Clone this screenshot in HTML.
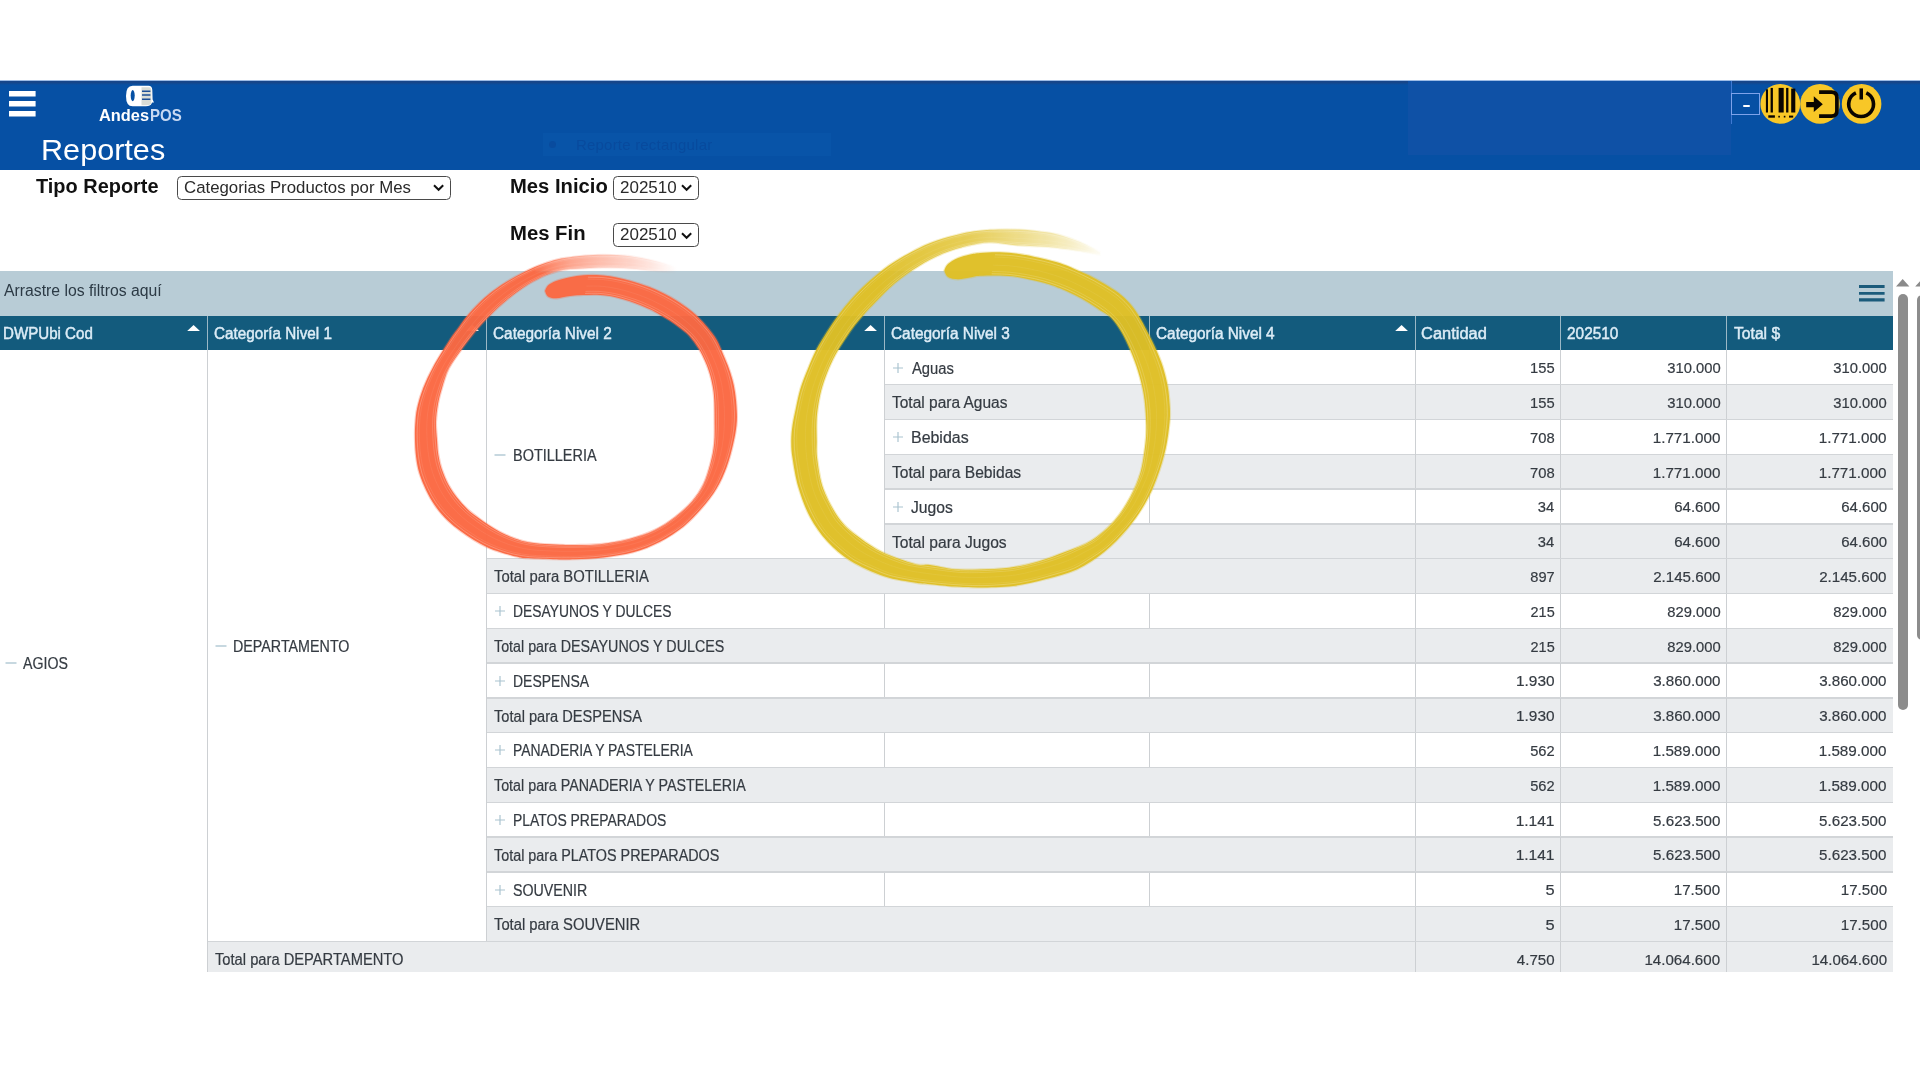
<!DOCTYPE html>
<html lang="es"><head><meta charset="utf-8"><title>AndesPOS - Reportes</title>
<style>
html,body{margin:0;padding:0;background:#ffffff}
body{width:1920px;height:1080px;position:relative;overflow:hidden;font-family:"Liberation Sans", sans-serif}
.t{position:absolute;white-space:nowrap;display:block}
.h{-webkit-text-stroke:0.45px #dcecf6}
.b{-webkit-text-stroke:0.2px #353b42}
</style></head><body>

<div style="position:absolute;left:0;top:80.6px;width:1920px;height:89.4px;background:#0650a4"></div>
<div style="position:absolute;left:0;top:79.8px;width:1920px;height:1px;background:#9dbce6"></div>
<div style="position:absolute;left:0;top:80.6px;width:1920px;height:4px;background:linear-gradient(#16468a,#16468a 40%,rgba(22,70,138,0))"></div>
<div style="position:absolute;left:1408px;top:81px;width:323px;height:74px;background:#0f51a6"></div>
<div style="position:absolute;left:542.5px;top:132.5px;width:288px;height:23px;background:#0a55a9;opacity:.75"></div>
<div style="position:absolute;left:549px;top:141px;width:7px;height:7px;border-radius:4px;background:#08479a;opacity:.7"></div>
<div style="position:absolute;left:576px;top:136px;font-size:15px;line-height:18px;color:#08479a;opacity:.75;white-space:nowrap;letter-spacing:0.2px">Reporte rectangular</div>
<div style="position:absolute;left:1730.7px;top:81px;width:1px;height:43px;background:#3f79d2"></div>
<div style="position:absolute;left:1731.2px;top:93.2px;width:28.9px;height:21.4px;box-sizing:border-box;border:1.4px solid #7ea3ea"></div>
<div style="position:absolute;left:1742.8px;top:105px;width:7.3px;height:2.1px;background:#ffffff;border-radius:1px"></div>
<svg style="position:absolute;left:8.5px;top:91px" width="27" height="26" viewBox="0 0 27 26"><path d="M0 0.1h26.6v5.4H0zM0 10.1h26.6v5.4H0zM0 20.1h26.6v5.4H0z" fill="#ffffff"/></svg>
<svg style="position:absolute;left:124px;top:84px" width="32" height="24" viewBox="0 0 32 24">
 <path d="M8.6 1.8H24.5Q28 1.8 28.3 6L28.6 15.5L30 18.6L28.2 18.4L27.6 19.6Q26.5 22.3 22 22.3H8.6Q2 22.3 2 12Q2 1.8 8.6 1.8Z" fill="#ffffff"/>
 <path d="M17.5 3.2H25Q27.2 3.4 27.3 6.5V19Q26.4 21.2 22.5 21.2H17.5Z" fill="#d9dcd6"/>
 <ellipse cx="8.7" cy="11.6" rx="2.0" ry="5.6" fill="#0650a4"/>
 <path d="M18 7.2h8.4M18 11.1h8.4M18 15.3h8.4" stroke="#1d4f97" stroke-width="1.5"/>
</svg>
<svg style="position:absolute;left:1760px;top:83px" width="124" height="42" viewBox="1760 83 124 42">
 <circle cx="1780.3" cy="103.9" r="19.9" fill="#f8c727"/>
 <circle cx="1820.0" cy="103.9" r="19.8" fill="#f8c727"/>
 <circle cx="1861.6" cy="103.9" r="19.8" fill="#f8c727"/>
 <g fill="#0a0500">
  <rect x="1765.9" y="89.3" width="2.1" height="23.2"/><rect x="1770.6" y="87.9" width="2.3" height="24.6"/>
  <rect x="1778.6" y="87.9" width="5.1" height="24.6"/><rect x="1786.1" y="87.9" width="2.3" height="24.6"/>
  <rect x="1791.2" y="88.6" width="4.1" height="23.9"/>
  <rect x="1768.3" y="115.3" width="6.6" height="2.4"/><rect x="1778.3" y="115.8" width="1.6" height="1.7"/>
  <rect x="1783.8" y="115.8" width="1.6" height="1.7"/><rect x="1789" y="115.6" width="4.2" height="2"/>
  <path d="M1806.2 101.9H1813.8V96.3L1822.8 104.2L1813.8 112V107.2H1806.2Z"/>
  <rect x="1859.5" y="88.4" width="3.5" height="11.1"/>
 </g>
 <path d="M1819.1 92.1H1831.5Q1836.9 92.1 1836.9 97.5V110.7Q1836.9 116.1 1831.5 116.1H1819.1" fill="none" stroke="#0a0500" stroke-width="3.7"/>
 <path d="M1855.9 92.9A12.4 12.4 0 1 0 1866.3 92.9" fill="none" stroke="#0a0500" stroke-width="3.6"/>
</svg>

<div style="position:absolute;left:177.3px;top:176.0px;width:273.8px;height:23.8px;box-sizing:border-box;border:1.9px solid #4a4a4a;border-radius:4.5px;background:#fff"></div><svg style="position:absolute;left:433.4px;top:184.3px" width="12" height="8" viewBox="0 0 12 8"><path d="M1 1.2L5.6 5.8L10.2 1.2" fill="none" stroke="#111" stroke-width="2"/></svg><div style="position:absolute;left:613.3px;top:176.0px;width:85.6px;height:23.8px;box-sizing:border-box;border:1.9px solid #4a4a4a;border-radius:4.5px;background:#fff"></div><svg style="position:absolute;left:681.4px;top:184.3px" width="12" height="8" viewBox="0 0 12 8"><path d="M1 1.2L5.6 5.8L10.2 1.2" fill="none" stroke="#111" stroke-width="2"/></svg><div style="position:absolute;left:613.3px;top:223.2px;width:85.6px;height:23.8px;box-sizing:border-box;border:1.9px solid #4a4a4a;border-radius:4.5px;background:#fff"></div><svg style="position:absolute;left:681.4px;top:231.5px" width="12" height="8" viewBox="0 0 12 8"><path d="M1 1.2L5.6 5.8L10.2 1.2" fill="none" stroke="#111" stroke-width="2"/></svg>

<div style="position:absolute;left:0;top:271.2px;width:1893.2px;height:44.6px;background:#b8ccd6"></div>
<div style="position:absolute;left:0;top:315.6px;width:1893.2px;height:34.2px;background:#135b7d"></div>
<div style="position:absolute;left:207px;top:315.6px;width:1px;height:34.2px;background:#9bb8c6"></div><div style="position:absolute;left:486px;top:315.6px;width:1px;height:34.2px;background:#9bb8c6"></div><div style="position:absolute;left:884px;top:315.6px;width:1px;height:34.2px;background:#9bb8c6"></div><div style="position:absolute;left:1149px;top:315.6px;width:1px;height:34.2px;background:#9bb8c6"></div><div style="position:absolute;left:1415px;top:315.6px;width:1px;height:34.2px;background:#9bb8c6"></div><div style="position:absolute;left:1560px;top:315.6px;width:1px;height:34.2px;background:#9bb8c6"></div><div style="position:absolute;left:1726px;top:315.6px;width:1px;height:34.2px;background:#9bb8c6"></div><svg style="position:absolute;left:187.00px;top:325.0px" width="13.2" height="6.2" viewBox="0 0 13.2 6.2"><path d="M0 6.2L6.6 0L13.2 6.2Z" fill="#ffffff"/></svg><svg style="position:absolute;left:465.90px;top:325.0px" width="13.2" height="6.2" viewBox="0 0 13.2 6.2"><path d="M0 6.2L6.6 0L13.2 6.2Z" fill="#ffffff"/></svg><svg style="position:absolute;left:864.00px;top:325.0px" width="13.2" height="6.2" viewBox="0 0 13.2 6.2"><path d="M0 6.2L6.6 0L13.2 6.2Z" fill="#ffffff"/></svg><svg style="position:absolute;left:1394.90px;top:325.0px" width="13.2" height="6.2" viewBox="0 0 13.2 6.2"><path d="M0 6.2L6.6 0L13.2 6.2Z" fill="#ffffff"/></svg>
<svg style="position:absolute;left:1858.8px;top:284.8px" width="26" height="17" viewBox="0 0 26 17"><path d="M0 0h25.6v3.1H0zM0 7h25.6v2.7H0zM0 13.3h25.6v3.2H0z" fill="#1b5b7b"/></svg>
<svg style="position:absolute;left:1896px;top:278.8px" width="24" height="8" viewBox="0 0 24 8"><path d="M0 7.6L6.7 0L13.4 7.6ZM19.2 7.6L25.9 0L32 7.6Z" fill="#8a8a8a"/></svg>
<div style="position:absolute;left:1897.8px;top:294.4px;width:10.3px;height:415.6px;border-radius:5.2px;background:#8c8c8c"></div>
<div style="position:absolute;left:1916.7px;top:294.6px;width:10.3px;height:345.2px;border-radius:5.2px;background:#8c8c8c"></div>

<svg style="position:absolute;left:892.20px;top:361.60px" width="12" height="12" viewBox="0 0 12 12"><path d="M1 6H11M6 1V11" stroke="#a9c3cf" stroke-width="1.15" fill="none"/></svg><div style="position:absolute;left:1149.00px;top:349.90px;width:1.00px;height:34.80px;background:#cdd0d3;"></div><div style="position:absolute;left:1415.00px;top:349.90px;width:1.00px;height:34.80px;background:#cdd0d3;"></div><div style="position:absolute;left:1560.00px;top:349.90px;width:1.00px;height:34.80px;background:#cdd0d3;"></div><div style="position:absolute;left:1726.00px;top:349.90px;width:1.00px;height:34.80px;background:#cdd0d3;"></div><div style="position:absolute;left:884.50px;top:384.70px;width:1008.70px;height:34.80px;background:#eaecee;"></div><div style="position:absolute;left:884.50px;top:384.00px;width:1008.70px;height:1.40px;background:#d2d5d8;"></div><div style="position:absolute;left:1415.00px;top:384.70px;width:1.00px;height:34.80px;background:#cdd0d3;"></div><div style="position:absolute;left:1560.00px;top:384.70px;width:1.00px;height:34.80px;background:#cdd0d3;"></div><div style="position:absolute;left:1726.00px;top:384.70px;width:1.00px;height:34.80px;background:#cdd0d3;"></div><svg style="position:absolute;left:892.20px;top:431.20px" width="12" height="12" viewBox="0 0 12 12"><path d="M1 6H11M6 1V11" stroke="#a9c3cf" stroke-width="1.15" fill="none"/></svg><div style="position:absolute;left:1149.00px;top:419.50px;width:1.00px;height:34.80px;background:#cdd0d3;"></div><div style="position:absolute;left:884.50px;top:418.80px;width:1008.70px;height:1.40px;background:#d2d5d8;"></div><div style="position:absolute;left:1415.00px;top:419.50px;width:1.00px;height:34.80px;background:#cdd0d3;"></div><div style="position:absolute;left:1560.00px;top:419.50px;width:1.00px;height:34.80px;background:#cdd0d3;"></div><div style="position:absolute;left:1726.00px;top:419.50px;width:1.00px;height:34.80px;background:#cdd0d3;"></div><div style="position:absolute;left:884.50px;top:454.30px;width:1008.70px;height:34.80px;background:#eaecee;"></div><div style="position:absolute;left:884.50px;top:453.60px;width:1008.70px;height:1.40px;background:#d2d5d8;"></div><div style="position:absolute;left:1415.00px;top:454.30px;width:1.00px;height:34.80px;background:#cdd0d3;"></div><div style="position:absolute;left:1560.00px;top:454.30px;width:1.00px;height:34.80px;background:#cdd0d3;"></div><div style="position:absolute;left:1726.00px;top:454.30px;width:1.00px;height:34.80px;background:#cdd0d3;"></div><svg style="position:absolute;left:892.20px;top:500.80px" width="12" height="12" viewBox="0 0 12 12"><path d="M1 6H11M6 1V11" stroke="#a9c3cf" stroke-width="1.15" fill="none"/></svg><div style="position:absolute;left:1149.00px;top:489.10px;width:1.00px;height:34.80px;background:#cdd0d3;"></div><div style="position:absolute;left:884.50px;top:488.40px;width:1008.70px;height:1.40px;background:#d2d5d8;"></div><div style="position:absolute;left:1415.00px;top:489.10px;width:1.00px;height:34.80px;background:#cdd0d3;"></div><div style="position:absolute;left:1560.00px;top:489.10px;width:1.00px;height:34.80px;background:#cdd0d3;"></div><div style="position:absolute;left:1726.00px;top:489.10px;width:1.00px;height:34.80px;background:#cdd0d3;"></div><div style="position:absolute;left:884.50px;top:523.90px;width:1008.70px;height:34.80px;background:#eaecee;"></div><div style="position:absolute;left:884.50px;top:523.20px;width:1008.70px;height:1.40px;background:#d2d5d8;"></div><div style="position:absolute;left:1415.00px;top:523.90px;width:1.00px;height:34.80px;background:#cdd0d3;"></div><div style="position:absolute;left:1560.00px;top:523.90px;width:1.00px;height:34.80px;background:#cdd0d3;"></div><div style="position:absolute;left:1726.00px;top:523.90px;width:1.00px;height:34.80px;background:#cdd0d3;"></div><div style="position:absolute;left:486.40px;top:558.70px;width:1406.80px;height:34.80px;background:#eaecee;"></div><div style="position:absolute;left:486.40px;top:558.00px;width:1406.80px;height:1.40px;background:#d2d5d8;"></div><div style="position:absolute;left:1415.00px;top:558.70px;width:1.00px;height:34.80px;background:#cdd0d3;"></div><div style="position:absolute;left:1560.00px;top:558.70px;width:1.00px;height:34.80px;background:#cdd0d3;"></div><div style="position:absolute;left:1726.00px;top:558.70px;width:1.00px;height:34.80px;background:#cdd0d3;"></div><svg style="position:absolute;left:494.10px;top:605.20px" width="12" height="12" viewBox="0 0 12 12"><path d="M1 6H11M6 1V11" stroke="#a9c3cf" stroke-width="1.15" fill="none"/></svg><div style="position:absolute;left:884.00px;top:593.50px;width:1.00px;height:34.80px;background:#cdd0d3;"></div><div style="position:absolute;left:1149.00px;top:593.50px;width:1.00px;height:34.80px;background:#cdd0d3;"></div><div style="position:absolute;left:486.40px;top:592.80px;width:1406.80px;height:1.40px;background:#d2d5d8;"></div><div style="position:absolute;left:1415.00px;top:593.50px;width:1.00px;height:34.80px;background:#cdd0d3;"></div><div style="position:absolute;left:1560.00px;top:593.50px;width:1.00px;height:34.80px;background:#cdd0d3;"></div><div style="position:absolute;left:1726.00px;top:593.50px;width:1.00px;height:34.80px;background:#cdd0d3;"></div><div style="position:absolute;left:486.40px;top:628.30px;width:1406.80px;height:34.80px;background:#eaecee;"></div><div style="position:absolute;left:486.40px;top:627.60px;width:1406.80px;height:1.40px;background:#d2d5d8;"></div><div style="position:absolute;left:1415.00px;top:628.30px;width:1.00px;height:34.80px;background:#cdd0d3;"></div><div style="position:absolute;left:1560.00px;top:628.30px;width:1.00px;height:34.80px;background:#cdd0d3;"></div><div style="position:absolute;left:1726.00px;top:628.30px;width:1.00px;height:34.80px;background:#cdd0d3;"></div><svg style="position:absolute;left:494.10px;top:674.80px" width="12" height="12" viewBox="0 0 12 12"><path d="M1 6H11M6 1V11" stroke="#a9c3cf" stroke-width="1.15" fill="none"/></svg><div style="position:absolute;left:884.00px;top:663.10px;width:1.00px;height:34.80px;background:#cdd0d3;"></div><div style="position:absolute;left:1149.00px;top:663.10px;width:1.00px;height:34.80px;background:#cdd0d3;"></div><div style="position:absolute;left:486.40px;top:662.40px;width:1406.80px;height:1.40px;background:#d2d5d8;"></div><div style="position:absolute;left:1415.00px;top:663.10px;width:1.00px;height:34.80px;background:#cdd0d3;"></div><div style="position:absolute;left:1560.00px;top:663.10px;width:1.00px;height:34.80px;background:#cdd0d3;"></div><div style="position:absolute;left:1726.00px;top:663.10px;width:1.00px;height:34.80px;background:#cdd0d3;"></div><div style="position:absolute;left:486.40px;top:697.90px;width:1406.80px;height:34.80px;background:#eaecee;"></div><div style="position:absolute;left:486.40px;top:697.20px;width:1406.80px;height:1.40px;background:#d2d5d8;"></div><div style="position:absolute;left:1415.00px;top:697.90px;width:1.00px;height:34.80px;background:#cdd0d3;"></div><div style="position:absolute;left:1560.00px;top:697.90px;width:1.00px;height:34.80px;background:#cdd0d3;"></div><div style="position:absolute;left:1726.00px;top:697.90px;width:1.00px;height:34.80px;background:#cdd0d3;"></div><svg style="position:absolute;left:494.10px;top:744.40px" width="12" height="12" viewBox="0 0 12 12"><path d="M1 6H11M6 1V11" stroke="#a9c3cf" stroke-width="1.15" fill="none"/></svg><div style="position:absolute;left:884.00px;top:732.70px;width:1.00px;height:34.80px;background:#cdd0d3;"></div><div style="position:absolute;left:1149.00px;top:732.70px;width:1.00px;height:34.80px;background:#cdd0d3;"></div><div style="position:absolute;left:486.40px;top:732.00px;width:1406.80px;height:1.40px;background:#d2d5d8;"></div><div style="position:absolute;left:1415.00px;top:732.70px;width:1.00px;height:34.80px;background:#cdd0d3;"></div><div style="position:absolute;left:1560.00px;top:732.70px;width:1.00px;height:34.80px;background:#cdd0d3;"></div><div style="position:absolute;left:1726.00px;top:732.70px;width:1.00px;height:34.80px;background:#cdd0d3;"></div><div style="position:absolute;left:486.40px;top:767.50px;width:1406.80px;height:34.80px;background:#eaecee;"></div><div style="position:absolute;left:486.40px;top:766.80px;width:1406.80px;height:1.40px;background:#d2d5d8;"></div><div style="position:absolute;left:1415.00px;top:767.50px;width:1.00px;height:34.80px;background:#cdd0d3;"></div><div style="position:absolute;left:1560.00px;top:767.50px;width:1.00px;height:34.80px;background:#cdd0d3;"></div><div style="position:absolute;left:1726.00px;top:767.50px;width:1.00px;height:34.80px;background:#cdd0d3;"></div><svg style="position:absolute;left:494.10px;top:814.00px" width="12" height="12" viewBox="0 0 12 12"><path d="M1 6H11M6 1V11" stroke="#a9c3cf" stroke-width="1.15" fill="none"/></svg><div style="position:absolute;left:884.00px;top:802.30px;width:1.00px;height:34.80px;background:#cdd0d3;"></div><div style="position:absolute;left:1149.00px;top:802.30px;width:1.00px;height:34.80px;background:#cdd0d3;"></div><div style="position:absolute;left:486.40px;top:801.60px;width:1406.80px;height:1.40px;background:#d2d5d8;"></div><div style="position:absolute;left:1415.00px;top:802.30px;width:1.00px;height:34.80px;background:#cdd0d3;"></div><div style="position:absolute;left:1560.00px;top:802.30px;width:1.00px;height:34.80px;background:#cdd0d3;"></div><div style="position:absolute;left:1726.00px;top:802.30px;width:1.00px;height:34.80px;background:#cdd0d3;"></div><div style="position:absolute;left:486.40px;top:837.10px;width:1406.80px;height:34.80px;background:#eaecee;"></div><div style="position:absolute;left:486.40px;top:836.40px;width:1406.80px;height:1.40px;background:#d2d5d8;"></div><div style="position:absolute;left:1415.00px;top:837.10px;width:1.00px;height:34.80px;background:#cdd0d3;"></div><div style="position:absolute;left:1560.00px;top:837.10px;width:1.00px;height:34.80px;background:#cdd0d3;"></div><div style="position:absolute;left:1726.00px;top:837.10px;width:1.00px;height:34.80px;background:#cdd0d3;"></div><svg style="position:absolute;left:494.10px;top:883.60px" width="12" height="12" viewBox="0 0 12 12"><path d="M1 6H11M6 1V11" stroke="#a9c3cf" stroke-width="1.15" fill="none"/></svg><div style="position:absolute;left:884.00px;top:871.90px;width:1.00px;height:34.80px;background:#cdd0d3;"></div><div style="position:absolute;left:1149.00px;top:871.90px;width:1.00px;height:34.80px;background:#cdd0d3;"></div><div style="position:absolute;left:486.40px;top:871.20px;width:1406.80px;height:1.40px;background:#d2d5d8;"></div><div style="position:absolute;left:1415.00px;top:871.90px;width:1.00px;height:34.80px;background:#cdd0d3;"></div><div style="position:absolute;left:1560.00px;top:871.90px;width:1.00px;height:34.80px;background:#cdd0d3;"></div><div style="position:absolute;left:1726.00px;top:871.90px;width:1.00px;height:34.80px;background:#cdd0d3;"></div><div style="position:absolute;left:486.40px;top:906.70px;width:1406.80px;height:34.80px;background:#eaecee;"></div><div style="position:absolute;left:486.40px;top:906.00px;width:1406.80px;height:1.40px;background:#d2d5d8;"></div><div style="position:absolute;left:1415.00px;top:906.70px;width:1.00px;height:34.80px;background:#cdd0d3;"></div><div style="position:absolute;left:1560.00px;top:906.70px;width:1.00px;height:34.80px;background:#cdd0d3;"></div><div style="position:absolute;left:1726.00px;top:906.70px;width:1.00px;height:34.80px;background:#cdd0d3;"></div><div style="position:absolute;left:207.50px;top:941.50px;width:1685.70px;height:30.70px;background:#eaecee;"></div><div style="position:absolute;left:207.50px;top:940.80px;width:1685.70px;height:1.40px;background:#d2d5d8;"></div><div style="position:absolute;left:1415.00px;top:941.50px;width:1.00px;height:30.70px;background:#cdd0d3;"></div><div style="position:absolute;left:1560.00px;top:941.50px;width:1.00px;height:30.70px;background:#cdd0d3;"></div><div style="position:absolute;left:1726.00px;top:941.50px;width:1.00px;height:30.70px;background:#cdd0d3;"></div><div style="position:absolute;left:207.00px;top:349.90px;width:1.00px;height:622.30px;background:#cdd0d3;"></div><div style="position:absolute;left:486.00px;top:349.90px;width:1.00px;height:591.60px;background:#cdd0d3;"></div><div style="position:absolute;left:884.00px;top:349.90px;width:1.00px;height:208.80px;background:#cdd0d3;"></div><svg style="position:absolute;left:4.50px;top:656.90px" width="12" height="12" viewBox="0 0 12 12"><path d="M0.5 6H11.5" stroke="#a9c3cf" stroke-width="1.3" fill="none"/></svg><svg style="position:absolute;left:215.30px;top:639.80px" width="12" height="12" viewBox="0 0 12 12"><path d="M0.5 6H11.5" stroke="#a9c3cf" stroke-width="1.3" fill="none"/></svg><svg style="position:absolute;left:493.80px;top:448.60px" width="12" height="12" viewBox="0 0 12 12"><path d="M0.5 6H11.5" stroke="#a9c3cf" stroke-width="1.3" fill="none"/></svg>
<span class="t" style="left:40.55px;transform-origin:0 0;top:130.95px;font-size:30px;line-height:37.5px;color:#ffffff;transform:scaleX(1.0203)">Reportes</span><span class="t" style="left:98.59px;transform-origin:0 0;top:105.38px;font-size:16.9px;line-height:21.12px;color:#ffffff;font-weight:bold;transform:scaleX(0.9706)">Andes</span><span class="t" style="left:149.77px;transform-origin:0 0;top:105.38px;font-size:16.9px;line-height:21.12px;color:#c8d9f2;font-weight:bold;transform:scaleX(0.8894)">POS</span><span class="t" style="left:35.71px;transform-origin:0 0;top:174.17px;font-size:20px;line-height:25.0px;color:#111111;font-weight:bold;transform:scaleX(0.9967)">Tipo Reporte</span><span class="t" style="left:510.20px;transform-origin:0 0;top:173.87px;font-size:20px;line-height:25.0px;color:#111111;font-weight:bold;transform:scaleX(1.0111)">Mes Inicio</span><span class="t" style="left:510.19px;transform-origin:0 0;top:221.17px;font-size:20px;line-height:25.0px;color:#111111;font-weight:bold;transform:scaleX(1.0147)">Mes Fin</span><span class="t" style="left:183.77px;transform-origin:0 0;top:178.10px;font-size:16.67px;line-height:20.84px;color:#2a2a2a;transform:scaleX(1.0086)">Categorias Productos por Mes</span><span class="t" style="left:619.98px;transform-origin:0 0;top:178.10px;font-size:16.67px;line-height:20.84px;color:#2a2a2a;transform:scaleX(1.0202)">202510</span><span class="t" style="left:619.98px;transform-origin:0 0;top:225.40px;font-size:16.67px;line-height:20.84px;color:#2a2a2a;transform:scaleX(1.0202)">202510</span><span class="t" style="left:3.91px;transform-origin:0 0;top:281.44px;font-size:15.6px;line-height:19.5px;color:#2c3a45;transform:scaleX(1.0103)">Arrastre los filtros aquí</span><span class="t h" style="left:3.46px;transform-origin:0 0;top:324.04px;font-size:15.6px;line-height:19.5px;color:#dcecf6;transform:scaleX(0.9686)">DWPUbi Cod</span><span class="t h" style="left:214.02px;transform-origin:0 0;top:324.04px;font-size:15.6px;line-height:19.5px;color:#dcecf6;transform:scaleX(0.9788)">Categoría Nivel 1</span><span class="t h" style="left:492.62px;transform-origin:0 0;top:324.04px;font-size:15.6px;line-height:19.5px;color:#dcecf6;transform:scaleX(0.9865)">Categoría Nivel 2</span><span class="t h" style="left:891.02px;transform-origin:0 0;top:324.04px;font-size:15.6px;line-height:19.5px;color:#dcecf6;transform:scaleX(0.9861)">Categoría Nivel 3</span><span class="t h" style="left:1156.02px;transform-origin:0 0;top:324.04px;font-size:15.6px;line-height:19.5px;color:#dcecf6;transform:scaleX(0.9847)">Categoría Nivel 4</span><span class="t h" style="left:1420.96px;transform-origin:0 0;top:324.04px;font-size:15.6px;line-height:19.5px;color:#dcecf6;transform:scaleX(1.0547)">Cantidad</span><span class="t h" style="left:1567.04px;transform-origin:0 0;top:324.04px;font-size:15.6px;line-height:19.5px;color:#dcecf6;transform:scaleX(0.9876)">202510</span><span class="t h" style="left:1733.81px;transform-origin:0 0;top:324.04px;font-size:15.6px;line-height:19.5px;color:#dcecf6;transform:scaleX(1.0044)">Total $</span><span class="t b" style="left:23.04px;transform-origin:0 0;top:654.34px;font-size:15.6px;line-height:19.5px;color:#353b42;transform:scaleX(0.9086)">AGIOS</span><span class="t b" style="left:233.41px;transform-origin:0 0;top:636.94px;font-size:15.6px;line-height:19.5px;color:#353b42;transform:scaleX(0.9165)">DEPARTAMENTO</span><span class="t b" style="left:512.80px;transform-origin:0 0;top:445.54px;font-size:15.6px;line-height:19.5px;color:#353b42;transform:scaleX(0.9279)">BOTILLERIA</span><span class="t b" style="left:911.53px;transform-origin:0 0;top:358.54px;font-size:15.6px;line-height:19.5px;color:#353b42;transform:scaleX(0.946)">Aguas</span><span class="t b" style="right:365.75px;transform-origin:100% 0;top:358.24px;font-size:15.4px;line-height:19.25px;color:#353b42;transform:scaleX(0.9578)">155</span><span class="t b" style="right:199.62px;transform-origin:100% 0;top:358.24px;font-size:15.4px;line-height:19.25px;color:#353b42;transform:scaleX(0.9595)">310.000</span><span class="t b" style="right:32.92px;transform-origin:100% 0;top:358.24px;font-size:15.4px;line-height:19.25px;color:#353b42;transform:scaleX(0.9595)">310.000</span><span class="t b" style="left:892.01px;transform-origin:0 0;top:393.34px;font-size:15.6px;line-height:19.5px;color:#353b42;transform:scaleX(0.9935)">Total para Aguas</span><span class="t b" style="right:365.75px;transform-origin:100% 0;top:393.04px;font-size:15.4px;line-height:19.25px;color:#353b42;transform:scaleX(0.9578)">155</span><span class="t b" style="right:199.62px;transform-origin:100% 0;top:393.04px;font-size:15.4px;line-height:19.25px;color:#353b42;transform:scaleX(0.9595)">310.000</span><span class="t b" style="right:32.92px;transform-origin:100% 0;top:393.04px;font-size:15.4px;line-height:19.25px;color:#353b42;transform:scaleX(0.9595)">310.000</span><span class="t b" style="left:910.81px;transform-origin:0 0;top:428.14px;font-size:15.6px;line-height:19.5px;color:#353b42;transform:scaleX(1.0225)">Bebidas</span><span class="t b" style="right:365.48px;transform-origin:100% 0;top:427.84px;font-size:15.4px;line-height:19.25px;color:#353b42;transform:scaleX(0.9611)">708</span><span class="t b" style="right:199.76px;transform-origin:100% 0;top:427.84px;font-size:15.4px;line-height:19.25px;color:#353b42;transform:scaleX(0.9902)">1.771.000</span><span class="t b" style="right:33.06px;transform-origin:100% 0;top:427.84px;font-size:15.4px;line-height:19.25px;color:#353b42;transform:scaleX(0.9902)">1.771.000</span><span class="t b" style="left:892.01px;transform-origin:0 0;top:462.94px;font-size:15.6px;line-height:19.5px;color:#353b42;transform:scaleX(0.9996)">Total para Bebidas</span><span class="t b" style="right:365.48px;transform-origin:100% 0;top:462.64px;font-size:15.4px;line-height:19.25px;color:#353b42;transform:scaleX(0.9611)">708</span><span class="t b" style="right:199.76px;transform-origin:100% 0;top:462.64px;font-size:15.4px;line-height:19.25px;color:#353b42;transform:scaleX(0.9902)">1.771.000</span><span class="t b" style="right:33.06px;transform-origin:100% 0;top:462.64px;font-size:15.4px;line-height:19.25px;color:#353b42;transform:scaleX(0.9902)">1.771.000</span><span class="t b" style="left:911.35px;transform-origin:0 0;top:497.74px;font-size:15.6px;line-height:19.5px;color:#353b42;transform:scaleX(1.0073)">Jugos</span><span class="t b" style="right:365.86px;transform-origin:100% 0;top:497.44px;font-size:15.4px;line-height:19.25px;color:#353b42;transform:scaleX(0.9586)">34</span><span class="t b" style="right:199.54px;transform-origin:100% 0;top:497.44px;font-size:15.4px;line-height:19.25px;color:#353b42;transform:scaleX(0.9741)">64.600</span><span class="t b" style="right:32.84px;transform-origin:100% 0;top:497.44px;font-size:15.4px;line-height:19.25px;color:#353b42;transform:scaleX(0.9741)">64.600</span><span class="t b" style="left:892.01px;transform-origin:0 0;top:532.54px;font-size:15.6px;line-height:19.5px;color:#353b42;transform:scaleX(1.0021)">Total para Jugos</span><span class="t b" style="right:365.86px;transform-origin:100% 0;top:532.24px;font-size:15.4px;line-height:19.25px;color:#353b42;transform:scaleX(0.9586)">34</span><span class="t b" style="right:199.54px;transform-origin:100% 0;top:532.24px;font-size:15.4px;line-height:19.25px;color:#353b42;transform:scaleX(0.9741)">64.600</span><span class="t b" style="right:32.84px;transform-origin:100% 0;top:532.24px;font-size:15.4px;line-height:19.25px;color:#353b42;transform:scaleX(0.9741)">64.600</span><span class="t b" style="left:493.93px;transform-origin:0 0;top:567.34px;font-size:15.6px;line-height:19.5px;color:#353b42;transform:scaleX(0.9511)">Total para BOTILLERIA</span><span class="t b" style="right:365.47px;transform-origin:100% 0;top:567.04px;font-size:15.4px;line-height:19.25px;color:#353b42;transform:scaleX(0.9488)">897</span><span class="t b" style="right:199.76px;transform-origin:100% 0;top:567.04px;font-size:15.4px;line-height:19.25px;color:#353b42;transform:scaleX(0.9831)">2.145.600</span><span class="t b" style="right:33.06px;transform-origin:100% 0;top:567.04px;font-size:15.4px;line-height:19.25px;color:#353b42;transform:scaleX(0.9831)">2.145.600</span><span class="t b" style="left:512.84px;transform-origin:0 0;top:602.14px;font-size:15.6px;line-height:19.5px;color:#353b42;transform:scaleX(0.8883)">DESAYUNOS Y DULCES</span><span class="t b" style="right:365.76px;transform-origin:100% 0;top:601.84px;font-size:15.4px;line-height:19.25px;color:#353b42;transform:scaleX(0.9388)">215</span><span class="t b" style="right:199.62px;transform-origin:100% 0;top:601.84px;font-size:15.4px;line-height:19.25px;color:#353b42;transform:scaleX(0.9586)">829.000</span><span class="t b" style="right:32.92px;transform-origin:100% 0;top:601.84px;font-size:15.4px;line-height:19.25px;color:#353b42;transform:scaleX(0.9586)">829.000</span><span class="t b" style="left:493.94px;transform-origin:0 0;top:636.94px;font-size:15.6px;line-height:19.5px;color:#353b42;transform:scaleX(0.9164)">Total para DESAYUNOS Y DULCES</span><span class="t b" style="right:365.76px;transform-origin:100% 0;top:636.64px;font-size:15.4px;line-height:19.25px;color:#353b42;transform:scaleX(0.9388)">215</span><span class="t b" style="right:199.62px;transform-origin:100% 0;top:636.64px;font-size:15.4px;line-height:19.25px;color:#353b42;transform:scaleX(0.9586)">829.000</span><span class="t b" style="right:32.92px;transform-origin:100% 0;top:636.64px;font-size:15.4px;line-height:19.25px;color:#353b42;transform:scaleX(0.9586)">829.000</span><span class="t b" style="left:512.83px;transform-origin:0 0;top:671.74px;font-size:15.6px;line-height:19.5px;color:#353b42;transform:scaleX(0.8955)">DESPENSA</span><span class="t b" style="right:365.93px;transform-origin:100% 0;top:671.44px;font-size:15.4px;line-height:19.25px;color:#353b42;transform:scaleX(1.001)">1.930</span><span class="t b" style="right:199.76px;transform-origin:100% 0;top:671.44px;font-size:15.4px;line-height:19.25px;color:#353b42;transform:scaleX(0.9832)">3.860.000</span><span class="t b" style="right:33.06px;transform-origin:100% 0;top:671.44px;font-size:15.4px;line-height:19.25px;color:#353b42;transform:scaleX(0.9832)">3.860.000</span><span class="t b" style="left:493.94px;transform-origin:0 0;top:706.54px;font-size:15.6px;line-height:19.5px;color:#353b42;transform:scaleX(0.9375)">Total para DESPENSA</span><span class="t b" style="right:365.93px;transform-origin:100% 0;top:706.24px;font-size:15.4px;line-height:19.25px;color:#353b42;transform:scaleX(1.001)">1.930</span><span class="t b" style="right:199.76px;transform-origin:100% 0;top:706.24px;font-size:15.4px;line-height:19.25px;color:#353b42;transform:scaleX(0.9832)">3.860.000</span><span class="t b" style="right:33.06px;transform-origin:100% 0;top:706.24px;font-size:15.4px;line-height:19.25px;color:#353b42;transform:scaleX(0.9832)">3.860.000</span><span class="t b" style="left:512.84px;transform-origin:0 0;top:741.34px;font-size:15.6px;line-height:19.5px;color:#353b42;transform:scaleX(0.8921)">PANADERIA Y PASTELERIA</span><span class="t b" style="right:365.47px;transform-origin:100% 0;top:741.04px;font-size:15.4px;line-height:19.25px;color:#353b42;transform:scaleX(0.9534)">562</span><span class="t b" style="right:199.76px;transform-origin:100% 0;top:741.04px;font-size:15.4px;line-height:19.25px;color:#353b42;transform:scaleX(0.9902)">1.589.000</span><span class="t b" style="right:33.06px;transform-origin:100% 0;top:741.04px;font-size:15.4px;line-height:19.25px;color:#353b42;transform:scaleX(0.9902)">1.589.000</span><span class="t b" style="left:493.94px;transform-origin:0 0;top:776.14px;font-size:15.6px;line-height:19.5px;color:#353b42;transform:scaleX(0.917)">Total para PANADERIA Y PASTELERIA</span><span class="t b" style="right:365.47px;transform-origin:100% 0;top:775.84px;font-size:15.4px;line-height:19.25px;color:#353b42;transform:scaleX(0.9534)">562</span><span class="t b" style="right:199.76px;transform-origin:100% 0;top:775.84px;font-size:15.4px;line-height:19.25px;color:#353b42;transform:scaleX(0.9902)">1.589.000</span><span class="t b" style="right:33.06px;transform-origin:100% 0;top:775.84px;font-size:15.4px;line-height:19.25px;color:#353b42;transform:scaleX(0.9902)">1.589.000</span><span class="t b" style="left:512.83px;transform-origin:0 0;top:810.94px;font-size:15.6px;line-height:19.5px;color:#353b42;transform:scaleX(0.8932)">PLATOS PREPARADOS</span><span class="t b" style="right:365.61px;transform-origin:100% 0;top:810.64px;font-size:15.4px;line-height:19.25px;color:#353b42;transform:scaleX(1.0094)">1.141</span><span class="t b" style="right:199.76px;transform-origin:100% 0;top:810.64px;font-size:15.4px;line-height:19.25px;color:#353b42;transform:scaleX(0.9842)">5.623.500</span><span class="t b" style="right:33.06px;transform-origin:100% 0;top:810.64px;font-size:15.4px;line-height:19.25px;color:#353b42;transform:scaleX(0.9842)">5.623.500</span><span class="t b" style="left:493.94px;transform-origin:0 0;top:845.74px;font-size:15.6px;line-height:19.5px;color:#353b42;transform:scaleX(0.9222)">Total para PLATOS PREPARADOS</span><span class="t b" style="right:365.61px;transform-origin:100% 0;top:845.44px;font-size:15.4px;line-height:19.25px;color:#353b42;transform:scaleX(1.0094)">1.141</span><span class="t b" style="right:199.76px;transform-origin:100% 0;top:845.44px;font-size:15.4px;line-height:19.25px;color:#353b42;transform:scaleX(0.9842)">5.623.500</span><span class="t b" style="right:33.06px;transform-origin:100% 0;top:845.44px;font-size:15.4px;line-height:19.25px;color:#353b42;transform:scaleX(0.9842)">5.623.500</span><span class="t b" style="left:512.94px;transform-origin:0 0;top:880.54px;font-size:15.6px;line-height:19.5px;color:#353b42;transform:scaleX(0.9121)">SOUVENIR</span><span class="t b" style="right:365.82px;transform-origin:100% 0;top:880.24px;font-size:15.4px;line-height:19.25px;color:#353b42;transform:scaleX(1.0675)">5</span><span class="t b" style="right:199.53px;transform-origin:100% 0;top:880.24px;font-size:15.4px;line-height:19.25px;color:#353b42;transform:scaleX(0.9844)">17.500</span><span class="t b" style="right:32.83px;transform-origin:100% 0;top:880.24px;font-size:15.4px;line-height:19.25px;color:#353b42;transform:scaleX(0.9844)">17.500</span><span class="t b" style="left:493.93px;transform-origin:0 0;top:915.34px;font-size:15.6px;line-height:19.5px;color:#353b42;transform:scaleX(0.9479)">Total para SOUVENIR</span><span class="t b" style="right:365.82px;transform-origin:100% 0;top:915.04px;font-size:15.4px;line-height:19.25px;color:#353b42;transform:scaleX(1.0675)">5</span><span class="t b" style="right:199.53px;transform-origin:100% 0;top:915.04px;font-size:15.4px;line-height:19.25px;color:#353b42;transform:scaleX(0.9844)">17.500</span><span class="t b" style="right:32.83px;transform-origin:100% 0;top:915.04px;font-size:15.4px;line-height:19.25px;color:#353b42;transform:scaleX(0.9844)">17.500</span><span class="t b" style="left:215.03px;transform-origin:0 0;top:950.14px;font-size:15.6px;line-height:19.5px;color:#353b42;transform:scaleX(0.9429)">Total para DEPARTAMENTO</span><span class="t b" style="right:365.93px;transform-origin:100% 0;top:949.84px;font-size:15.4px;line-height:19.25px;color:#353b42;transform:scaleX(0.9787)">4.750</span><span class="t b" style="right:199.58px;transform-origin:100% 0;top:949.84px;font-size:15.4px;line-height:19.25px;color:#353b42;transform:scaleX(0.9815)">14.064.600</span><span class="t b" style="right:32.88px;transform-origin:100% 0;top:949.84px;font-size:15.4px;line-height:19.25px;color:#353b42;transform:scaleX(0.9815)">14.064.600</span>
<svg style="position:absolute;left:0;top:0" width="1920" height="1080" viewBox="0 0 1920 1080">
<linearGradient id="go" gradientUnits="userSpaceOnUse" x1="535" y1="0" x2="677" y2="0"><stop offset="0.000" stop-color="#f7f7f7"/><stop offset="0.106" stop-color="#cccccc"/><stop offset="0.246" stop-color="#9e9e9e"/><stop offset="0.387" stop-color="#808080"/><stop offset="0.528" stop-color="#666666"/><stop offset="0.669" stop-color="#4c4c4c"/><stop offset="0.810" stop-color="#2e2e2e"/><stop offset="0.915" stop-color="#141414"/><stop offset="1.000" stop-color="#000000"/></linearGradient>
<mask id="mo" maskUnits="userSpaceOnUse" maskContentUnits="userSpaceOnUse" x="380" y="220" width="400" height="380"><rect x="380" y="220" width="400" height="380" fill="#fff"/><path d="M535 240H700V292L660 284L640 278L600 272.6H535Z" fill="url(#go)"/></mask>
<g mask="url(#mo)"><path d="M545.0 291.0C545.5 290.1 546.2 287.2 548.0 285.5C549.8 283.8 552.3 282.4 556.0 281.0C559.7 279.6 565.5 278.2 570.0 277.3C574.5 276.4 578.8 275.7 583.3 275.3C587.8 274.9 592.2 274.8 596.7 275.0C601.2 275.2 605.6 275.6 610.0 276.3C614.4 277.0 618.8 277.9 623.3 279.0C627.8 280.1 632.2 281.3 636.7 282.7C641.2 284.1 645.6 285.5 650.0 287.3C654.4 289.1 658.8 291.1 663.3 293.3C667.8 295.5 672.2 297.9 676.7 300.7C681.2 303.5 686.5 307.3 690.0 310.0C693.5 312.7 695.0 314.0 698.0 317.0C701.0 320.0 704.7 324.0 707.8 327.8C710.9 331.6 714.3 335.9 716.7 340.0C719.1 344.1 720.4 347.9 722.2 352.2C724.1 356.5 726.1 361.2 727.8 365.6C729.5 370.1 731.0 374.5 732.2 378.9C733.4 383.3 734.2 387.0 735.0 392.2C735.8 397.4 736.5 404.5 736.7 410.0C737.0 415.5 737.1 419.4 736.5 425.0C735.9 430.6 734.9 436.4 733.3 443.3C731.7 450.2 729.5 459.2 726.7 466.7C723.9 474.2 720.9 481.4 716.7 488.3C712.5 495.2 707.3 501.9 701.7 508.3C696.1 514.7 690.2 521.1 683.3 526.7C676.3 532.3 668.3 537.4 660.0 541.7C651.7 546.0 642.8 549.7 633.3 552.3C623.8 554.9 613.0 556.2 603.3 557.4C593.6 558.5 583.3 558.9 575.0 559.2C566.7 559.5 561.6 559.4 553.3 559.2C545.0 559.0 531.2 558.6 525.0 558.1C518.8 557.6 520.2 557.5 516.1 556.5C512.0 555.5 505.4 553.8 500.6 552.2C495.8 550.7 491.6 549.2 487.2 547.2C482.8 545.2 478.3 542.7 473.9 540.0C469.5 537.3 465.1 534.4 460.6 531.1C456.2 527.8 451.5 524.2 447.2 520.0C442.9 515.8 438.5 510.6 435.0 505.6C431.5 500.6 428.7 495.4 426.1 490.0C423.5 484.6 421.1 478.9 419.4 473.3C417.7 467.8 416.8 462.2 416.1 456.7C415.4 451.1 415.1 445.3 415.0 440.0C414.9 434.7 414.8 430.3 415.2 425.0C415.6 419.7 415.8 414.2 417.2 408.0C418.6 401.8 420.6 394.9 423.3 388.0C426.0 381.1 429.0 374.5 433.3 366.7C437.6 358.9 444.8 347.5 449.0 341.0C453.2 334.5 455.4 332.0 458.5 327.8C461.6 323.6 464.1 319.7 467.5 315.6C470.9 311.5 475.1 307.0 478.9 303.3C482.6 299.6 485.9 296.6 490.0 293.3C494.1 290.1 498.9 286.7 503.3 283.8C507.8 280.9 512.2 278.4 516.7 276.0C521.2 273.6 525.6 271.2 530.0 269.2C534.4 267.2 538.8 265.4 543.3 263.8C547.8 262.2 552.9 260.6 556.7 259.6C560.5 258.6 561.3 258.5 566.0 257.8C570.7 257.1 578.5 256.1 585.0 255.6C591.5 255.1 597.5 254.7 605.0 254.8C612.5 254.9 621.7 255.2 630.0 256.2C638.3 257.2 647.0 259.0 655.0 261.0C663.0 263.0 674.2 266.8 678.0 268.0L678.0 273.0C674.2 272.7 663.0 271.8 655.0 271.0C647.0 270.2 638.3 269.1 630.0 268.5C621.7 267.9 612.5 267.6 605.0 267.5C597.5 267.4 591.5 267.8 585.0 268.2C578.5 268.6 571.8 268.7 566.0 269.6C560.2 270.5 554.5 272.1 550.0 273.6C545.5 275.1 542.6 276.7 538.9 278.5C535.2 280.3 531.5 282.2 527.8 284.5C524.1 286.8 520.4 289.4 516.7 292.2C513.0 294.9 509.3 297.9 505.6 301.0C501.9 304.1 498.9 306.5 494.4 311.0C489.9 315.5 483.7 321.7 478.5 327.8C473.3 333.9 467.9 340.8 463.0 347.5C458.1 354.2 452.5 361.6 449.0 368.3C445.5 375.1 443.8 382.1 442.0 388.0C440.2 393.9 439.0 398.4 438.0 404.0C437.0 409.6 436.2 415.7 436.0 421.7C435.8 427.7 436.6 434.6 437.0 440.0C437.4 445.4 437.5 449.6 438.3 454.4C439.1 459.2 440.0 463.9 441.7 468.9C443.4 473.9 445.7 479.6 448.3 484.4C450.9 489.2 454.1 493.7 457.2 497.8C460.3 501.9 463.7 505.6 467.2 508.9C470.7 512.2 474.6 515.0 478.3 517.8C482.0 520.6 485.7 523.2 489.4 525.6C493.1 528.0 496.9 530.3 500.6 532.2C504.3 534.1 507.6 535.7 511.7 537.2C515.8 538.8 520.3 540.4 525.0 541.5C529.7 542.6 534.2 543.2 540.0 543.8C545.8 544.3 554.2 544.6 560.0 544.8C565.8 545.0 568.3 545.1 575.0 545.0C581.7 544.9 591.0 545.2 600.0 544.2C609.0 543.2 619.9 541.4 629.0 539.0C638.1 536.6 646.8 533.7 654.5 530.0C662.2 526.3 668.8 521.8 675.0 517.0C681.2 512.2 687.2 507.0 692.0 501.5C696.8 496.0 700.4 490.4 703.5 484.0C706.6 477.6 708.7 470.1 710.5 463.3C712.3 456.5 713.5 450.5 714.2 443.3C714.9 436.1 714.6 427.4 714.6 420.0C714.6 412.6 714.5 404.4 714.2 398.9C713.9 393.3 713.5 390.8 712.8 386.7C712.1 382.6 711.2 378.5 710.0 374.4C708.8 370.3 707.5 366.4 705.6 362.2C703.8 357.9 701.7 353.3 698.9 348.9C696.1 344.4 692.1 339.0 689.0 335.5C685.9 332.0 683.2 330.5 680.0 328.0C676.8 325.5 673.3 322.9 670.0 320.7C666.7 318.5 663.3 316.6 660.0 314.7C656.7 312.8 653.9 311.1 650.0 309.3C646.1 307.5 641.2 305.4 636.7 303.7C632.2 302.0 627.8 300.6 623.3 299.3C618.8 298.0 614.4 296.8 610.0 296.0C605.6 295.2 601.2 294.9 596.7 294.7C592.2 294.5 587.8 294.8 583.3 295.0C578.8 295.2 574.5 295.3 570.0 295.9C565.5 296.4 559.7 298.2 556.0 298.3C552.3 298.4 549.8 297.7 548.0 296.5C546.2 295.3 545.5 291.9 545.0 291.0Z" fill="none" stroke="#fb6842" stroke-opacity="0.3" stroke-width="2.2" stroke-linejoin="round"/><path d="M545.0 291.0C545.5 290.1 546.2 287.2 548.0 285.5C549.8 283.8 552.3 282.4 556.0 281.0C559.7 279.6 565.5 278.2 570.0 277.3C574.5 276.4 578.8 275.7 583.3 275.3C587.8 274.9 592.2 274.8 596.7 275.0C601.2 275.2 605.6 275.6 610.0 276.3C614.4 277.0 618.8 277.9 623.3 279.0C627.8 280.1 632.2 281.3 636.7 282.7C641.2 284.1 645.6 285.5 650.0 287.3C654.4 289.1 658.8 291.1 663.3 293.3C667.8 295.5 672.2 297.9 676.7 300.7C681.2 303.5 686.5 307.3 690.0 310.0C693.5 312.7 695.0 314.0 698.0 317.0C701.0 320.0 704.7 324.0 707.8 327.8C710.9 331.6 714.3 335.9 716.7 340.0C719.1 344.1 720.4 347.9 722.2 352.2C724.1 356.5 726.1 361.2 727.8 365.6C729.5 370.1 731.0 374.5 732.2 378.9C733.4 383.3 734.2 387.0 735.0 392.2C735.8 397.4 736.5 404.5 736.7 410.0C737.0 415.5 737.1 419.4 736.5 425.0C735.9 430.6 734.9 436.4 733.3 443.3C731.7 450.2 729.5 459.2 726.7 466.7C723.9 474.2 720.9 481.4 716.7 488.3C712.5 495.2 707.3 501.9 701.7 508.3C696.1 514.7 690.2 521.1 683.3 526.7C676.3 532.3 668.3 537.4 660.0 541.7C651.7 546.0 642.8 549.7 633.3 552.3C623.8 554.9 613.0 556.2 603.3 557.4C593.6 558.5 583.3 558.9 575.0 559.2C566.7 559.5 561.6 559.4 553.3 559.2C545.0 559.0 531.2 558.6 525.0 558.1C518.8 557.6 520.2 557.5 516.1 556.5C512.0 555.5 505.4 553.8 500.6 552.2C495.8 550.7 491.6 549.2 487.2 547.2C482.8 545.2 478.3 542.7 473.9 540.0C469.5 537.3 465.1 534.4 460.6 531.1C456.2 527.8 451.5 524.2 447.2 520.0C442.9 515.8 438.5 510.6 435.0 505.6C431.5 500.6 428.7 495.4 426.1 490.0C423.5 484.6 421.1 478.9 419.4 473.3C417.7 467.8 416.8 462.2 416.1 456.7C415.4 451.1 415.1 445.3 415.0 440.0C414.9 434.7 414.8 430.3 415.2 425.0C415.6 419.7 415.8 414.2 417.2 408.0C418.6 401.8 420.6 394.9 423.3 388.0C426.0 381.1 429.0 374.5 433.3 366.7C437.6 358.9 444.8 347.5 449.0 341.0C453.2 334.5 455.4 332.0 458.5 327.8C461.6 323.6 464.1 319.7 467.5 315.6C470.9 311.5 475.1 307.0 478.9 303.3C482.6 299.6 485.9 296.6 490.0 293.3C494.1 290.1 498.9 286.7 503.3 283.8C507.8 280.9 512.2 278.4 516.7 276.0C521.2 273.6 525.6 271.2 530.0 269.2C534.4 267.2 538.8 265.4 543.3 263.8C547.8 262.2 552.9 260.6 556.7 259.6C560.5 258.6 561.3 258.5 566.0 257.8C570.7 257.1 578.5 256.1 585.0 255.6C591.5 255.1 597.5 254.7 605.0 254.8C612.5 254.9 621.7 255.2 630.0 256.2C638.3 257.2 647.0 259.0 655.0 261.0C663.0 263.0 674.2 266.8 678.0 268.0L678.0 273.0C674.2 272.7 663.0 271.8 655.0 271.0C647.0 270.2 638.3 269.1 630.0 268.5C621.7 267.9 612.5 267.6 605.0 267.5C597.5 267.4 591.5 267.8 585.0 268.2C578.5 268.6 571.8 268.7 566.0 269.6C560.2 270.5 554.5 272.1 550.0 273.6C545.5 275.1 542.6 276.7 538.9 278.5C535.2 280.3 531.5 282.2 527.8 284.5C524.1 286.8 520.4 289.4 516.7 292.2C513.0 294.9 509.3 297.9 505.6 301.0C501.9 304.1 498.9 306.5 494.4 311.0C489.9 315.5 483.7 321.7 478.5 327.8C473.3 333.9 467.9 340.8 463.0 347.5C458.1 354.2 452.5 361.6 449.0 368.3C445.5 375.1 443.8 382.1 442.0 388.0C440.2 393.9 439.0 398.4 438.0 404.0C437.0 409.6 436.2 415.7 436.0 421.7C435.8 427.7 436.6 434.6 437.0 440.0C437.4 445.4 437.5 449.6 438.3 454.4C439.1 459.2 440.0 463.9 441.7 468.9C443.4 473.9 445.7 479.6 448.3 484.4C450.9 489.2 454.1 493.7 457.2 497.8C460.3 501.9 463.7 505.6 467.2 508.9C470.7 512.2 474.6 515.0 478.3 517.8C482.0 520.6 485.7 523.2 489.4 525.6C493.1 528.0 496.9 530.3 500.6 532.2C504.3 534.1 507.6 535.7 511.7 537.2C515.8 538.8 520.3 540.4 525.0 541.5C529.7 542.6 534.2 543.2 540.0 543.8C545.8 544.3 554.2 544.6 560.0 544.8C565.8 545.0 568.3 545.1 575.0 545.0C581.7 544.9 591.0 545.2 600.0 544.2C609.0 543.2 619.9 541.4 629.0 539.0C638.1 536.6 646.8 533.7 654.5 530.0C662.2 526.3 668.8 521.8 675.0 517.0C681.2 512.2 687.2 507.0 692.0 501.5C696.8 496.0 700.4 490.4 703.5 484.0C706.6 477.6 708.7 470.1 710.5 463.3C712.3 456.5 713.5 450.5 714.2 443.3C714.9 436.1 714.6 427.4 714.6 420.0C714.6 412.6 714.5 404.4 714.2 398.9C713.9 393.3 713.5 390.8 712.8 386.7C712.1 382.6 711.2 378.5 710.0 374.4C708.8 370.3 707.5 366.4 705.6 362.2C703.8 357.9 701.7 353.3 698.9 348.9C696.1 344.4 692.1 339.0 689.0 335.5C685.9 332.0 683.2 330.5 680.0 328.0C676.8 325.5 673.3 322.9 670.0 320.7C666.7 318.5 663.3 316.6 660.0 314.7C656.7 312.8 653.9 311.1 650.0 309.3C646.1 307.5 641.2 305.4 636.7 303.7C632.2 302.0 627.8 300.6 623.3 299.3C618.8 298.0 614.4 296.8 610.0 296.0C605.6 295.2 601.2 294.9 596.7 294.7C592.2 294.5 587.8 294.8 583.3 295.0C578.8 295.2 574.5 295.3 570.0 295.9C565.5 296.4 559.7 298.2 556.0 298.3C552.3 298.4 549.8 297.7 548.0 296.5C546.2 295.3 545.5 291.9 545.0 291.0Z" fill="#fb6842" opacity="0.97"/><path d="M588.0 277.2C590.7 277.3 598.7 277.2 604.0 277.7C609.2 278.2 614.5 279.1 619.7 280.3C624.9 281.4 630.1 282.8 635.2 284.3C640.2 285.9 645.3 287.6 650.2 289.6C655.1 291.6 660.0 293.9 664.7 296.4C669.4 298.9 674.0 301.5 678.5 304.4C682.9 307.4 687.3 310.4 691.4 313.9C695.4 317.3 699.2 321.1 702.7 325.1C706.3 329.0 709.7 333.2 712.6 337.7C715.4 342.1 717.7 347.0 719.9 351.8C722.1 356.6 724.2 361.5 726.0 366.5C727.8 371.5 729.5 376.6 730.7 381.8C731.9 387.0 732.7 392.3 733.3 397.5C734.0 402.8 734.4 408.2 734.5 413.5C734.5 418.8 734.2 424.1 733.7 429.4C733.1 434.7 732.1 439.9 730.9 445.1C729.8 450.3 728.3 455.5 726.7 460.5C725.1 465.6 723.1 470.6 721.0 475.4C718.9 480.3 716.8 485.2 714.0 489.7C711.3 494.3 707.9 498.5 704.5 502.6C701.1 506.7 697.5 510.6 693.8 514.4C690.2 518.3 686.6 522.3 682.4 525.6C678.3 528.9 673.6 531.6 669.1 534.3C664.5 537.1 660.0 539.9 655.2 542.2C650.4 544.5 645.4 546.3 640.3 548.0C635.3 549.7 630.2 551.1 625.0 552.3C619.9 553.5 614.6 554.3 609.3 555.0C604.0 555.7 598.7 556.2 593.4 556.7C588.1 557.1 582.8 557.4 577.5 557.6C572.1 557.8 566.8 557.8 561.5 557.8C556.2 557.7 550.8 557.6 545.5 557.4C540.2 557.2 534.8 557.2 529.5 556.7C524.3 556.1 519.0 555.3 513.8 554.1C508.7 552.9 503.5 551.3 498.5 549.5C493.6 547.6 488.6 545.6 483.9 543.1C479.2 540.7 474.6 537.9 470.2 535.0C465.7 532.1 461.4 529.0 457.3 525.6C453.2 522.2 449.2 518.6 445.6 514.7C442.0 510.8 438.6 506.7 435.7 502.3C432.7 497.9 430.1 493.1 427.9 488.3C425.6 483.5 423.6 478.5 422.0 473.5C420.5 468.4 419.5 463.1 418.7 457.9C417.9 452.6 417.6 447.3 417.3 442.0C417.1 436.6 417.0 431.3 417.3 426.0C417.6 420.7 418.0 415.3 419.0 410.1C420.0 404.9 421.5 399.7 423.1 394.7C424.8 389.7 426.7 384.7 428.9 379.8C431.0 374.9 433.2 370.1 435.8 365.4C438.3 360.8 441.3 356.3 444.2 351.8C447.0 347.3 449.8 342.8 452.8 338.4C455.8 334.0 459.0 329.7 462.2 325.5C465.5 321.3 468.7 317.0 472.2 313.0C475.7 309.0 479.4 305.2 483.3 301.5C487.2 297.9 491.2 294.4 495.5 291.2C499.7 288.0 504.1 285.0 508.7 282.2C513.2 279.4 517.9 276.8 522.6 274.4C527.3 272.0 532.1 269.6 537.0 267.6C542.0 265.6 547.0 263.8 552.1 262.3C557.2 260.8 562.4 259.7 567.7 258.8C572.9 258.0 578.2 257.5 583.5 257.1C588.8 256.7 594.2 256.4 599.5 256.3C604.8 256.2 610.1 256.4 615.5 256.6C620.8 256.9 626.1 257.0 631.4 257.7C636.7 258.3 641.9 259.5 647.1 260.5C652.3 261.6 657.5 262.8 662.7 264.1C667.8 265.5 675.4 267.8 678.0 268.5" fill="none" stroke="#fff" stroke-opacity="0.22" stroke-width="1.0"/><path d="M587.7 279.1C590.3 279.2 598.2 279.1 603.4 279.6C608.7 280.1 613.9 281.0 619.0 282.1C624.2 283.2 629.3 284.6 634.3 286.1C639.4 287.7 644.4 289.4 649.2 291.4C654.1 293.4 658.9 295.7 663.6 298.1C668.2 300.5 672.8 303.2 677.2 306.1C681.6 308.9 686.0 312.0 690.0 315.4C694.0 318.8 697.8 322.5 701.3 326.4C704.8 330.3 708.2 334.4 711.0 338.8C713.8 343.3 716.0 348.1 718.3 352.8C720.5 357.6 722.5 362.5 724.3 367.5C726.0 372.4 727.6 377.5 728.7 382.6C729.9 387.7 730.6 393.0 731.2 398.2C731.8 403.4 732.2 408.7 732.2 414.0C732.3 419.2 732.1 424.5 731.5 429.8C731.0 435.0 730.1 440.2 729.0 445.3C727.9 450.5 726.5 455.6 724.9 460.6C723.4 465.6 721.5 470.6 719.4 475.4C717.3 480.2 715.2 485.1 712.5 489.6C709.8 494.1 706.5 498.3 703.2 502.3C699.9 506.4 696.2 510.2 692.6 514.0C688.9 517.7 685.3 521.7 681.2 524.9C677.1 528.2 672.4 530.9 667.9 533.6C663.4 536.3 658.9 538.9 654.1 541.2C649.4 543.4 644.4 545.3 639.4 546.9C634.4 548.5 629.4 549.9 624.2 551.1C619.1 552.2 613.9 553.0 608.6 553.7C603.4 554.4 598.2 554.9 592.9 555.3C587.7 555.7 582.4 556.0 577.1 556.2C571.9 556.4 566.6 556.4 561.3 556.3C556.0 556.3 550.8 556.1 545.5 555.9C540.2 555.7 534.9 555.7 529.7 555.1C524.5 554.5 519.3 553.6 514.2 552.4C509.1 551.2 504.0 549.5 499.1 547.7C494.2 545.8 489.3 543.7 484.7 541.3C480.0 538.9 475.5 536.1 471.2 533.1C466.8 530.2 462.5 527.1 458.4 523.8C454.4 520.4 450.5 516.8 447.0 512.9C443.4 509.1 440.1 504.9 437.2 500.5C434.3 496.1 431.8 491.4 429.6 486.7C427.4 481.9 425.4 477.0 424.0 471.9C422.5 466.9 421.5 461.7 420.8 456.5C420.0 451.3 419.7 446.0 419.5 440.7C419.2 435.5 419.2 430.2 419.5 424.9C419.7 419.7 420.2 414.4 421.2 409.2C422.1 404.0 423.6 398.9 425.2 393.9C426.8 388.9 428.8 384.0 430.9 379.2C432.9 374.4 435.2 369.6 437.8 365.0C440.3 360.4 443.3 356.0 446.1 351.6C449.0 347.1 451.8 342.7 454.8 338.3C457.8 334.0 460.9 329.8 464.2 325.6C467.4 321.4 470.6 317.3 474.1 313.3C477.6 309.4 481.3 305.6 485.1 302.0C489.0 298.4 493.0 295.0 497.2 291.8C501.4 288.6 505.8 285.7 510.2 282.9C514.7 280.1 519.3 277.5 524.0 275.1C528.7 272.6 533.4 270.3 538.3 268.3C543.2 266.4 548.2 264.6 553.2 263.2C558.3 261.8 563.5 260.8 568.7 259.9C573.9 259.1 579.1 258.7 584.4 258.3C589.6 257.9 594.9 257.6 600.2 257.5C605.5 257.5 610.7 257.7 616.0 257.9C621.2 258.1 626.5 258.3 631.8 258.9C637.0 259.5 642.2 260.6 647.3 261.6C652.5 262.6 657.6 263.8 662.8 265.0C667.9 266.2 675.5 268.3 678.0 269.0" fill="none" stroke="#fff" stroke-opacity="0.1" stroke-width="0.8"/><path d="M585.5 291.4C587.9 291.4 595.4 291.1 600.3 291.5C605.2 291.9 610.1 292.6 614.9 293.6C619.7 294.6 624.5 296.0 629.2 297.5C633.9 298.9 638.5 300.6 643.1 302.4C647.7 304.3 652.1 306.4 656.5 308.7C660.9 310.9 665.2 313.4 669.3 316.0C673.5 318.7 677.6 321.5 681.4 324.6C685.3 327.6 689.1 330.8 692.5 334.4C695.8 338.0 698.7 342.1 701.3 346.2C703.9 350.4 706.1 354.9 708.1 359.4C710.1 363.9 711.9 368.5 713.3 373.2C714.7 377.9 715.8 382.8 716.6 387.6C717.4 392.5 717.8 397.4 718.1 402.3C718.4 407.3 718.5 412.2 718.5 417.1C718.6 422.1 718.5 427.0 718.2 431.9C718.0 436.8 717.7 441.8 717.0 446.6C716.3 451.5 715.3 456.4 714.0 461.1C712.8 465.9 711.2 470.6 709.4 475.2C707.6 479.7 705.7 484.3 703.4 488.6C701.0 492.8 698.2 497.1 695.1 500.8C691.9 504.6 688.2 507.9 684.6 511.2C680.9 514.5 677.3 517.8 673.3 520.7C669.4 523.7 665.1 526.3 660.8 528.7C656.5 531.1 652.1 533.1 647.5 534.9C643.0 536.8 638.3 538.6 633.6 540.0C628.9 541.4 624.0 542.3 619.2 543.3C614.4 544.3 609.5 545.2 604.6 545.9C599.7 546.5 594.8 546.7 589.9 547.0C585.0 547.2 580.0 547.4 575.1 547.5C570.2 547.6 565.2 547.5 560.3 547.4C555.4 547.3 550.4 547.1 545.5 546.7C540.6 546.4 535.6 546.1 530.8 545.3C525.9 544.5 521.1 543.4 516.4 542.0C511.7 540.5 507.1 538.8 502.6 536.7C498.1 534.7 493.8 532.4 489.5 529.8C485.3 527.3 481.2 524.5 477.2 521.6C473.2 518.7 469.2 515.8 465.6 512.5C461.9 509.2 458.5 505.6 455.4 501.8C452.3 498.0 449.4 493.9 446.9 489.7C444.4 485.5 442.3 481.0 440.5 476.4C438.7 471.8 437.1 467.1 436.0 462.3C434.9 457.6 434.3 452.6 433.7 447.7C433.2 442.9 432.8 437.9 432.7 433.0C432.5 428.1 432.4 423.1 432.8 418.2C433.1 413.3 433.7 408.4 434.6 403.5C435.5 398.7 436.8 393.9 438.3 389.2C439.7 384.5 441.3 379.8 443.3 375.3C445.3 370.8 447.6 366.5 450.1 362.2C452.5 358.0 455.4 353.9 458.2 349.9C461.0 345.8 464.0 341.9 467.0 338.0C470.0 334.1 473.0 330.1 476.2 326.4C479.4 322.6 482.7 319.0 486.1 315.4C489.6 311.9 493.1 308.4 496.7 305.1C500.3 301.8 504.1 298.6 508.0 295.5C511.9 292.5 515.9 289.5 520.0 286.8C524.1 284.1 528.3 281.6 532.7 279.3C537.0 277.0 541.5 274.7 546.1 273.0C550.7 271.3 555.5 269.9 560.3 268.9C565.1 267.9 570.0 267.3 574.9 266.8C579.8 266.3 584.7 266.1 589.6 265.8C594.6 265.5 599.5 265.3 604.4 265.3C609.4 265.3 614.3 265.6 619.2 265.8C624.2 266.0 629.1 266.3 634.0 266.7C638.9 267.1 643.8 267.8 648.7 268.4C653.6 269.0 658.5 269.6 663.4 270.2C668.2 270.8 675.6 271.8 678.0 272.1" fill="none" stroke="#fff" stroke-opacity="0.16" stroke-width="0.9"/><path d="M585.1 293.4C587.6 293.4 594.9 293.1 599.7 293.4C604.6 293.8 609.4 294.5 614.2 295.4C619.0 296.4 623.7 297.8 628.3 299.3C633.0 300.7 637.6 302.4 642.1 304.2C646.6 306.1 651.1 308.1 655.4 310.4C659.7 312.6 664.0 315.0 668.1 317.6C672.2 320.3 676.2 323.0 680.1 326.0C683.9 329.1 687.7 332.1 691.0 335.7C694.3 339.2 697.2 343.3 699.8 347.4C702.3 351.6 704.5 356.0 706.4 360.4C708.4 364.9 710.2 369.5 711.5 374.2C712.9 378.8 713.9 383.6 714.6 388.4C715.4 393.3 715.7 398.1 716.0 403.0C716.3 407.9 716.3 412.8 716.3 417.6C716.4 422.5 716.3 427.4 716.1 432.3C715.9 437.1 715.7 442.0 715.1 446.8C714.4 451.7 713.5 456.5 712.3 461.2C711.1 465.9 709.5 470.6 707.8 475.1C706.1 479.7 704.2 484.2 701.9 488.4C699.5 492.6 696.9 496.9 693.8 500.6C690.7 504.3 686.9 507.5 683.3 510.7C679.7 514.0 676.0 517.2 672.0 520.1C668.1 522.9 664.0 525.6 659.7 527.9C655.4 530.2 651.0 532.1 646.4 533.9C641.9 535.8 637.3 537.5 632.7 538.9C628.0 540.2 623.2 541.1 618.4 542.0C613.6 543.0 608.8 544.0 604.0 544.6C599.2 545.2 594.3 545.4 589.4 545.6C584.5 545.9 579.7 546.1 574.8 546.1C569.9 546.2 565.0 546.1 560.1 546.0C555.3 545.8 550.4 545.6 545.5 545.3C540.6 544.9 535.8 544.5 531.0 543.7C526.2 542.9 521.4 541.7 516.8 540.3C512.2 538.8 507.6 537.0 503.2 535.0C498.8 532.9 494.5 530.5 490.3 528.0C486.2 525.5 482.1 522.7 478.2 519.8C474.3 516.9 470.3 514.0 466.7 510.7C463.2 507.4 459.8 503.8 456.8 500.0C453.7 496.2 450.9 492.1 448.5 487.9C446.0 483.7 444.0 479.3 442.2 474.7C440.5 470.2 439.0 465.5 438.0 460.8C436.9 456.1 436.3 451.2 435.8 446.3C435.3 441.5 434.9 436.6 434.8 431.7C434.6 426.9 434.6 422.0 434.9 417.1C435.2 412.3 435.9 407.4 436.8 402.6C437.7 397.9 439.0 393.1 440.4 388.4C441.8 383.8 443.4 379.1 445.3 374.7C447.3 370.2 449.6 366.0 452.0 361.8C454.5 357.6 457.3 353.6 460.2 349.6C463.0 345.6 466.0 341.8 469.0 337.9C472.0 334.1 474.9 330.2 478.1 326.5C481.3 322.8 484.7 319.3 488.1 315.8C491.5 312.3 495.0 308.8 498.6 305.6C502.2 302.3 505.9 299.1 509.8 296.1C513.6 293.1 517.5 290.2 521.5 287.5C525.6 284.8 529.8 282.2 534.1 280.0C538.4 277.7 542.8 275.4 547.3 273.7C551.9 272.0 556.7 270.8 561.4 269.8C566.2 268.8 571.0 268.4 575.9 267.9C580.7 267.5 585.6 267.2 590.5 267.0C595.4 266.8 600.2 266.5 605.1 266.5C610.0 266.5 614.9 266.8 619.8 267.1C624.6 267.3 629.5 267.6 634.4 268.0C639.2 268.4 644.1 269.0 648.9 269.5C653.8 270.1 658.6 270.6 663.5 271.1C668.3 271.6 675.6 272.3 678.0 272.6" fill="none" stroke="#fff" stroke-opacity="0.22" stroke-width="1.0"/><path d="M586.4 286.1C589.0 286.1 596.6 285.9 601.6 286.3C606.7 286.7 611.7 287.5 616.7 288.6C621.7 289.6 626.6 291.0 631.4 292.5C636.3 294.0 641.1 295.7 645.8 297.6C650.5 299.6 655.1 301.7 659.6 304.1C664.1 306.4 668.5 308.9 672.8 311.7C677.0 314.4 681.2 317.4 685.2 320.6C689.1 323.8 692.9 327.1 696.3 330.9C699.7 334.6 702.8 338.7 705.5 343.0C708.2 347.3 710.4 351.9 712.5 356.5C714.6 361.1 716.5 365.9 718.1 370.7C719.6 375.5 720.9 380.5 721.9 385.5C722.8 390.4 723.4 395.5 723.8 400.5C724.2 405.6 724.5 410.7 724.5 415.8C724.5 420.8 724.4 425.9 724.0 431.0C723.6 436.0 723.1 441.1 722.2 446.1C721.3 451.1 720.2 456.0 718.8 460.9C717.4 465.8 715.7 470.6 713.8 475.3C711.9 479.9 709.9 484.6 707.4 489.0C704.8 493.4 701.8 497.6 698.6 501.5C695.4 505.4 691.7 508.9 688.0 512.4C684.4 515.9 680.8 519.5 676.7 522.6C672.7 525.6 668.3 528.3 663.9 530.8C659.5 533.3 655.0 535.6 650.4 537.7C645.8 539.7 641.0 541.5 636.1 543.0C631.3 544.5 626.4 545.6 621.4 546.7C616.4 547.7 611.4 548.6 606.4 549.3C601.3 549.9 596.3 550.3 591.2 550.6C586.1 550.9 581.1 551.2 576.0 551.3C570.9 551.4 565.8 551.4 560.7 551.3C555.7 551.2 550.6 551.0 545.5 550.7C540.4 550.5 535.3 550.3 530.3 549.6C525.3 548.9 520.3 547.9 515.5 546.5C510.6 545.2 505.8 543.5 501.1 541.5C496.4 539.6 491.8 537.3 487.4 534.8C483.0 532.4 478.7 529.5 474.6 526.6C470.4 523.7 466.3 520.8 462.5 517.4C458.7 514.1 455.0 510.5 451.7 506.6C448.4 502.8 445.4 498.7 442.7 494.4C440.0 490.1 437.7 485.5 435.7 480.9C433.7 476.2 432.0 471.4 430.8 466.5C429.5 461.6 428.7 456.6 428.1 451.5C427.4 446.5 427.1 441.4 426.9 436.3C426.7 431.3 426.7 426.2 427.0 421.1C427.3 416.1 427.8 411.0 428.8 406.0C429.7 401.0 431.1 396.1 432.6 391.3C434.1 386.4 435.9 381.6 437.9 377.0C439.9 372.3 442.2 367.8 444.7 363.4C447.2 359.0 450.1 354.8 453.0 350.6C455.8 346.4 458.7 342.2 461.7 338.1C464.7 334.0 467.7 330.0 470.9 326.0C474.1 322.1 477.4 318.2 480.9 314.5C484.4 310.8 487.9 307.2 491.7 303.7C495.4 300.3 499.3 297.0 503.3 293.9C507.3 290.8 511.5 287.8 515.7 285.1C520.0 282.4 524.4 279.8 528.9 277.4C533.4 275.1 538.0 272.8 542.7 271.0C547.4 269.1 552.3 267.6 557.2 266.4C562.1 265.2 567.1 264.5 572.2 263.8C577.2 263.2 582.3 262.9 587.4 262.5C592.4 262.2 597.5 261.9 602.6 261.9C607.7 261.9 612.7 262.1 617.8 262.4C622.9 262.6 628.0 262.8 633.0 263.3C638.1 263.8 643.1 264.7 648.1 265.5C653.1 266.2 658.1 267.1 663.1 267.9C668.1 268.8 675.5 270.3 678.0 270.8" fill="none" stroke="#fff" stroke-opacity="0.07" stroke-width="0.8"/></g>
<linearGradient id="gy" gradientUnits="userSpaceOnUse" x1="880" y1="0" x2="1106" y2="0"><stop offset="0.000" stop-color="#ffffff"/><stop offset="0.088" stop-color="#ededed"/><stop offset="0.265" stop-color="#dbdbdb"/><stop offset="0.389" stop-color="#cccccc"/><stop offset="0.487" stop-color="#b2b2b2"/><stop offset="0.575" stop-color="#999999"/><stop offset="0.664" stop-color="#808080"/><stop offset="0.752" stop-color="#666666"/><stop offset="0.841" stop-color="#474747"/><stop offset="0.912" stop-color="#292929"/><stop offset="0.973" stop-color="#0d0d0d"/><stop offset="1.000" stop-color="#000000"/></linearGradient>
<mask id="my" maskUnits="userSpaceOnUse" maskContentUnits="userSpaceOnUse" x="760" y="200" width="440" height="420"><rect x="760" y="200" width="440" height="420" fill="#fff"/><path d="M880 200H1120V263L1080 253.5L1050 249.5H968L944 256L940 300H880Z" fill="url(#gy)"/></mask>
<g mask="url(#my)"><path d="M944.3 270.5C944.9 269.4 945.7 266.1 948.0 264.0C950.3 261.9 954.3 259.6 958.0 258.0C961.7 256.4 966.3 255.3 970.0 254.5C973.7 253.7 975.0 253.3 980.0 252.9C985.0 252.5 993.5 252.1 1000.0 252.3C1006.5 252.5 1012.2 253.0 1018.9 253.9C1025.6 254.8 1033.2 256.5 1040.0 258.0C1046.8 259.5 1053.9 261.2 1059.6 263.0C1065.3 264.8 1069.5 266.8 1074.4 268.9C1079.4 271.0 1084.3 273.1 1089.3 275.6C1094.2 278.1 1099.2 280.8 1104.1 283.7C1109.0 286.6 1114.6 290.0 1118.9 293.3C1123.2 296.6 1126.7 300.0 1130.0 303.7C1133.3 307.4 1135.6 310.8 1138.5 315.5C1141.4 320.2 1144.5 326.2 1147.5 332.0C1150.5 337.8 1153.7 344.2 1156.2 350.0C1158.8 355.8 1161.0 361.0 1162.8 366.7C1164.6 372.4 1166.2 378.8 1167.3 384.4C1168.4 389.9 1168.9 394.2 1169.3 400.0C1169.7 405.8 1170.4 411.3 1169.8 419.4C1169.2 427.5 1167.8 438.9 1165.7 448.6C1163.6 458.3 1160.3 468.7 1156.9 477.8C1153.5 486.9 1150.2 494.7 1145.3 503.1C1140.4 511.5 1134.6 520.2 1127.8 528.3C1121.0 536.4 1112.8 544.9 1104.4 551.7C1096.0 558.5 1086.9 564.7 1077.2 569.2C1067.5 573.8 1056.8 576.2 1046.1 579.0C1035.4 581.8 1024.1 584.6 1013.1 586.0C1002.1 587.4 989.7 587.4 980.0 587.5C970.3 587.6 963.3 587.1 955.0 586.6C946.7 586.1 936.5 584.8 930.0 584.2C923.5 583.6 923.8 584.1 916.1 582.8C908.4 581.5 894.9 580.0 884.0 576.3C873.1 572.6 860.0 566.6 850.5 560.8C841.0 554.9 833.9 548.5 827.2 541.2C820.5 534.0 815.0 526.2 810.2 517.3C805.4 508.3 801.4 497.3 798.5 487.5C795.6 477.7 793.8 466.1 792.6 458.3C791.4 450.6 791.3 446.6 791.3 441.0C791.3 435.4 791.8 430.5 792.6 425.0C793.4 419.5 794.7 414.1 796.0 408.0C797.3 401.9 798.6 394.8 800.6 388.3C802.6 381.8 805.3 375.4 807.9 369.0C810.5 362.6 813.1 356.0 816.3 349.8C819.5 343.6 823.4 337.5 827.1 331.7C830.8 325.9 834.5 320.4 838.5 315.0C842.5 309.6 846.8 304.2 851.0 299.5C855.2 294.8 859.3 290.5 863.5 286.5C867.7 282.5 871.9 278.9 876.0 275.5C880.1 272.1 884.1 268.9 888.1 266.0C892.1 263.1 896.2 260.7 900.2 258.3C904.2 255.9 908.2 253.7 912.2 251.6C916.2 249.5 920.2 247.4 924.2 245.6C928.2 243.8 932.3 242.2 936.3 240.8C940.3 239.4 944.3 238.1 948.3 237.0C952.3 235.9 956.7 234.8 960.3 234.0C963.9 233.2 965.0 232.7 970.0 232.0C975.0 231.3 981.9 230.2 990.0 229.8C998.1 229.4 1010.6 229.3 1018.9 229.6C1027.2 229.9 1033.5 230.7 1040.0 231.5C1046.5 232.3 1051.1 232.7 1057.8 234.4C1064.5 236.2 1073.0 239.1 1080.0 242.0C1087.0 244.9 1096.7 250.3 1100.0 252.0L1100.0 255.0C1096.7 254.3 1087.0 252.2 1080.0 251.0C1073.0 249.8 1064.5 248.8 1057.8 248.0C1051.1 247.2 1046.5 246.9 1040.0 246.5C1033.5 246.1 1027.2 246.2 1018.9 245.5C1010.6 244.8 998.1 242.4 990.0 242.4C981.9 242.4 975.0 244.4 970.0 245.3C965.0 246.2 963.9 246.8 960.3 247.8C956.7 248.8 952.3 250.1 948.3 251.5C944.3 252.9 940.3 254.6 936.3 256.5C932.3 258.4 928.2 260.4 924.2 262.7C920.2 265.0 916.2 267.6 912.2 270.3C908.2 273.0 904.1 276.0 900.2 279.0C896.3 282.0 892.7 285.1 889.0 288.5C885.3 291.9 881.8 295.6 878.0 299.5C874.2 303.4 869.8 307.8 866.0 312.0C862.2 316.2 858.5 320.5 855.0 325.0C851.5 329.5 848.5 334.1 845.2 339.0C842.0 343.9 838.5 349.0 835.5 354.6C832.5 360.2 829.5 366.7 827.1 372.7C824.7 378.7 822.7 384.5 821.1 390.7C819.5 396.9 818.3 404.3 817.5 410.0C816.7 415.7 816.6 419.8 816.5 425.0C816.4 430.2 816.6 435.3 816.7 441.0C816.8 446.7 816.1 450.9 817.2 459.0C818.3 467.1 819.6 479.2 823.5 489.5C827.4 499.8 834.4 512.4 840.5 520.5C846.6 528.6 852.9 532.7 860.0 538.0C867.1 543.3 873.8 548.2 883.0 552.5C892.2 556.8 907.2 561.9 915.0 564.0C922.8 566.1 923.3 564.1 930.0 565.0C936.7 565.9 946.7 568.6 955.0 569.3C963.3 570.0 971.0 569.6 980.0 569.4C989.0 569.1 999.5 569.1 1009.2 567.8C1018.9 566.5 1028.9 564.2 1038.3 561.5C1047.7 558.8 1056.7 555.3 1065.6 551.8C1074.5 548.3 1083.3 545.7 1091.5 540.5C1099.7 535.3 1108.0 527.8 1114.5 520.5C1121.0 513.2 1126.2 504.5 1130.5 496.5C1134.8 488.5 1138.0 481.1 1140.5 472.5C1143.0 463.9 1144.3 452.6 1145.3 444.7C1146.3 436.8 1146.4 432.4 1146.3 425.0C1146.2 417.6 1145.4 406.8 1144.6 400.0C1143.8 393.2 1143.0 389.9 1141.7 384.4C1140.4 378.8 1138.6 372.4 1136.7 366.7C1134.8 361.0 1132.8 355.8 1130.3 350.0C1127.8 344.2 1124.7 337.4 1121.5 332.0C1118.3 326.6 1114.5 321.1 1111.0 317.5C1107.5 313.9 1104.0 312.8 1100.4 310.4C1096.8 308.0 1093.6 305.6 1089.3 303.0C1085.0 300.4 1079.4 297.3 1074.4 294.8C1069.5 292.3 1064.5 290.1 1059.6 288.1C1054.7 286.1 1051.6 284.8 1044.8 283.0C1038.0 281.2 1026.4 278.4 1018.9 277.2C1011.4 275.9 1006.5 275.7 1000.0 275.5C993.5 275.3 985.0 275.5 980.0 275.8C975.0 276.1 973.7 276.9 970.0 277.5C966.3 278.1 961.7 279.4 958.0 279.3C954.3 279.2 950.3 278.5 948.0 277.0C945.7 275.5 944.9 271.6 944.3 270.5Z" fill="none" stroke="#dfbf25" stroke-opacity="0.3" stroke-width="2.2" stroke-linejoin="round"/><path d="M944.3 270.5C944.9 269.4 945.7 266.1 948.0 264.0C950.3 261.9 954.3 259.6 958.0 258.0C961.7 256.4 966.3 255.3 970.0 254.5C973.7 253.7 975.0 253.3 980.0 252.9C985.0 252.5 993.5 252.1 1000.0 252.3C1006.5 252.5 1012.2 253.0 1018.9 253.9C1025.6 254.8 1033.2 256.5 1040.0 258.0C1046.8 259.5 1053.9 261.2 1059.6 263.0C1065.3 264.8 1069.5 266.8 1074.4 268.9C1079.4 271.0 1084.3 273.1 1089.3 275.6C1094.2 278.1 1099.2 280.8 1104.1 283.7C1109.0 286.6 1114.6 290.0 1118.9 293.3C1123.2 296.6 1126.7 300.0 1130.0 303.7C1133.3 307.4 1135.6 310.8 1138.5 315.5C1141.4 320.2 1144.5 326.2 1147.5 332.0C1150.5 337.8 1153.7 344.2 1156.2 350.0C1158.8 355.8 1161.0 361.0 1162.8 366.7C1164.6 372.4 1166.2 378.8 1167.3 384.4C1168.4 389.9 1168.9 394.2 1169.3 400.0C1169.7 405.8 1170.4 411.3 1169.8 419.4C1169.2 427.5 1167.8 438.9 1165.7 448.6C1163.6 458.3 1160.3 468.7 1156.9 477.8C1153.5 486.9 1150.2 494.7 1145.3 503.1C1140.4 511.5 1134.6 520.2 1127.8 528.3C1121.0 536.4 1112.8 544.9 1104.4 551.7C1096.0 558.5 1086.9 564.7 1077.2 569.2C1067.5 573.8 1056.8 576.2 1046.1 579.0C1035.4 581.8 1024.1 584.6 1013.1 586.0C1002.1 587.4 989.7 587.4 980.0 587.5C970.3 587.6 963.3 587.1 955.0 586.6C946.7 586.1 936.5 584.8 930.0 584.2C923.5 583.6 923.8 584.1 916.1 582.8C908.4 581.5 894.9 580.0 884.0 576.3C873.1 572.6 860.0 566.6 850.5 560.8C841.0 554.9 833.9 548.5 827.2 541.2C820.5 534.0 815.0 526.2 810.2 517.3C805.4 508.3 801.4 497.3 798.5 487.5C795.6 477.7 793.8 466.1 792.6 458.3C791.4 450.6 791.3 446.6 791.3 441.0C791.3 435.4 791.8 430.5 792.6 425.0C793.4 419.5 794.7 414.1 796.0 408.0C797.3 401.9 798.6 394.8 800.6 388.3C802.6 381.8 805.3 375.4 807.9 369.0C810.5 362.6 813.1 356.0 816.3 349.8C819.5 343.6 823.4 337.5 827.1 331.7C830.8 325.9 834.5 320.4 838.5 315.0C842.5 309.6 846.8 304.2 851.0 299.5C855.2 294.8 859.3 290.5 863.5 286.5C867.7 282.5 871.9 278.9 876.0 275.5C880.1 272.1 884.1 268.9 888.1 266.0C892.1 263.1 896.2 260.7 900.2 258.3C904.2 255.9 908.2 253.7 912.2 251.6C916.2 249.5 920.2 247.4 924.2 245.6C928.2 243.8 932.3 242.2 936.3 240.8C940.3 239.4 944.3 238.1 948.3 237.0C952.3 235.9 956.7 234.8 960.3 234.0C963.9 233.2 965.0 232.7 970.0 232.0C975.0 231.3 981.9 230.2 990.0 229.8C998.1 229.4 1010.6 229.3 1018.9 229.6C1027.2 229.9 1033.5 230.7 1040.0 231.5C1046.5 232.3 1051.1 232.7 1057.8 234.4C1064.5 236.2 1073.0 239.1 1080.0 242.0C1087.0 244.9 1096.7 250.3 1100.0 252.0L1100.0 255.0C1096.7 254.3 1087.0 252.2 1080.0 251.0C1073.0 249.8 1064.5 248.8 1057.8 248.0C1051.1 247.2 1046.5 246.9 1040.0 246.5C1033.5 246.1 1027.2 246.2 1018.9 245.5C1010.6 244.8 998.1 242.4 990.0 242.4C981.9 242.4 975.0 244.4 970.0 245.3C965.0 246.2 963.9 246.8 960.3 247.8C956.7 248.8 952.3 250.1 948.3 251.5C944.3 252.9 940.3 254.6 936.3 256.5C932.3 258.4 928.2 260.4 924.2 262.7C920.2 265.0 916.2 267.6 912.2 270.3C908.2 273.0 904.1 276.0 900.2 279.0C896.3 282.0 892.7 285.1 889.0 288.5C885.3 291.9 881.8 295.6 878.0 299.5C874.2 303.4 869.8 307.8 866.0 312.0C862.2 316.2 858.5 320.5 855.0 325.0C851.5 329.5 848.5 334.1 845.2 339.0C842.0 343.9 838.5 349.0 835.5 354.6C832.5 360.2 829.5 366.7 827.1 372.7C824.7 378.7 822.7 384.5 821.1 390.7C819.5 396.9 818.3 404.3 817.5 410.0C816.7 415.7 816.6 419.8 816.5 425.0C816.4 430.2 816.6 435.3 816.7 441.0C816.8 446.7 816.1 450.9 817.2 459.0C818.3 467.1 819.6 479.2 823.5 489.5C827.4 499.8 834.4 512.4 840.5 520.5C846.6 528.6 852.9 532.7 860.0 538.0C867.1 543.3 873.8 548.2 883.0 552.5C892.2 556.8 907.2 561.9 915.0 564.0C922.8 566.1 923.3 564.1 930.0 565.0C936.7 565.9 946.7 568.6 955.0 569.3C963.3 570.0 971.0 569.6 980.0 569.4C989.0 569.1 999.5 569.1 1009.2 567.8C1018.9 566.5 1028.9 564.2 1038.3 561.5C1047.7 558.8 1056.7 555.3 1065.6 551.8C1074.5 548.3 1083.3 545.7 1091.5 540.5C1099.7 535.3 1108.0 527.8 1114.5 520.5C1121.0 513.2 1126.2 504.5 1130.5 496.5C1134.8 488.5 1138.0 481.1 1140.5 472.5C1143.0 463.9 1144.3 452.6 1145.3 444.7C1146.3 436.8 1146.4 432.4 1146.3 425.0C1146.2 417.6 1145.4 406.8 1144.6 400.0C1143.8 393.2 1143.0 389.9 1141.7 384.4C1140.4 378.8 1138.6 372.4 1136.7 366.7C1134.8 361.0 1132.8 355.8 1130.3 350.0C1127.8 344.2 1124.7 337.4 1121.5 332.0C1118.3 326.6 1114.5 321.1 1111.0 317.5C1107.5 313.9 1104.0 312.8 1100.4 310.4C1096.8 308.0 1093.6 305.6 1089.3 303.0C1085.0 300.4 1079.4 297.3 1074.4 294.8C1069.5 292.3 1064.5 290.1 1059.6 288.1C1054.7 286.1 1051.6 284.8 1044.8 283.0C1038.0 281.2 1026.4 278.4 1018.9 277.2C1011.4 275.9 1006.5 275.7 1000.0 275.5C993.5 275.3 985.0 275.5 980.0 275.8C975.0 276.1 973.7 276.9 970.0 277.5C966.3 278.1 961.7 279.4 958.0 279.3C954.3 279.2 950.3 278.5 948.0 277.0C945.7 275.5 944.9 271.6 944.3 270.5Z" fill="#dfbf25" opacity="0.97"/><path d="M995.0 254.8C998.1 254.9 1007.6 255.1 1013.8 255.8C1020.0 256.5 1026.2 257.7 1032.4 258.9C1038.6 260.1 1044.7 261.4 1050.8 263.1C1056.8 264.8 1062.8 266.9 1068.6 269.1C1074.5 271.4 1080.3 273.9 1085.9 276.7C1091.6 279.4 1097.2 282.4 1102.5 285.6C1107.9 288.8 1113.4 292.0 1118.2 296.0C1123.0 300.0 1127.5 304.6 1131.3 309.5C1135.1 314.4 1138.2 320.0 1141.3 325.5C1144.4 330.9 1147.2 336.6 1149.8 342.3C1152.5 348.0 1155.1 353.7 1157.3 359.6C1159.5 365.5 1161.5 371.5 1163.0 377.5C1164.5 383.6 1165.6 389.8 1166.3 396.1C1167.0 402.3 1167.4 408.6 1167.3 414.9C1167.2 421.2 1166.4 427.4 1165.6 433.6C1164.9 439.9 1164.0 446.1 1162.6 452.2C1161.2 458.3 1159.4 464.4 1157.3 470.3C1155.3 476.3 1153.0 482.1 1150.5 487.9C1147.9 493.6 1145.4 499.4 1142.2 504.8C1139.0 510.2 1135.3 515.3 1131.5 520.3C1127.7 525.3 1123.6 530.0 1119.3 534.6C1115.0 539.2 1110.7 543.9 1105.9 547.8C1101.0 551.8 1095.7 555.1 1090.4 558.5C1085.1 561.8 1079.9 565.5 1074.2 568.1C1068.5 570.6 1062.3 572.0 1056.2 573.8C1050.2 575.6 1044.2 577.3 1038.1 578.8C1032.0 580.3 1025.8 581.7 1019.6 582.7C1013.4 583.7 1007.2 584.2 1000.9 584.7C994.7 585.2 988.4 585.5 982.1 585.6C975.8 585.7 969.5 585.5 963.2 585.1C956.9 584.8 950.7 584.3 944.4 583.8C938.2 583.2 931.9 582.6 925.7 581.9C919.4 581.1 913.2 580.2 907.0 579.0C900.9 577.9 894.6 576.9 888.6 575.0C882.6 573.2 877.0 570.5 871.2 568.0C865.5 565.4 859.5 563.1 854.2 559.9C848.9 556.6 844.1 552.4 839.4 548.3C834.7 544.2 829.9 540.1 825.9 535.3C821.8 530.6 818.2 525.2 815.1 519.8C812.0 514.4 809.5 508.7 807.0 502.9C804.6 497.2 802.2 491.3 800.5 485.2C798.8 479.2 797.9 472.9 796.9 466.7C795.8 460.5 794.8 454.3 794.4 448.1C794.0 441.8 794.1 435.5 794.6 429.3C795.2 423.0 796.4 416.8 797.6 410.7C798.8 404.5 800.1 398.3 801.8 392.3C803.5 386.2 805.7 380.3 807.9 374.5C810.2 368.6 812.6 362.7 815.3 357.1C818.0 351.4 820.9 345.9 824.1 340.5C827.3 335.0 830.7 329.8 834.3 324.6C837.9 319.4 841.6 314.3 845.5 309.4C849.4 304.5 853.5 299.8 857.8 295.2C862.2 290.6 866.7 286.2 871.4 282.0C876.0 277.8 880.9 273.8 885.9 270.0C890.9 266.2 896.1 262.7 901.5 259.4C906.8 256.2 912.4 253.2 918.0 250.4C923.7 247.6 929.4 245.0 935.3 242.8C941.1 240.5 947.2 238.7 953.3 237.1C959.3 235.5 965.5 234.1 971.7 233.1C977.9 232.1 984.2 231.5 990.4 231.2C996.7 230.9 1003.0 231.1 1009.3 231.2C1015.6 231.3 1021.9 231.5 1028.1 232.0C1034.4 232.4 1040.7 233.0 1046.9 234.0C1053.0 235.1 1059.2 236.4 1065.2 238.1C1071.2 239.8 1077.2 241.9 1083.0 244.3C1088.8 246.7 1097.2 251.0 1100.0 252.3" fill="none" stroke="#fff" stroke-opacity="0.22" stroke-width="1.0"/><path d="M994.6 257.1C997.7 257.2 1007.0 257.4 1013.2 258.1C1019.4 258.7 1025.5 259.9 1031.6 261.1C1037.7 262.3 1043.8 263.6 1049.8 265.3C1055.8 267.0 1061.7 268.9 1067.5 271.2C1073.3 273.4 1079.0 275.9 1084.6 278.7C1090.2 281.4 1095.7 284.3 1101.0 287.5C1106.4 290.7 1111.8 293.9 1116.6 297.8C1121.3 301.8 1125.7 306.3 1129.5 311.1C1133.4 315.9 1136.4 321.5 1139.4 326.9C1142.5 332.3 1145.2 337.9 1147.8 343.6C1150.4 349.2 1153.0 354.9 1155.1 360.7C1157.3 366.5 1159.2 372.5 1160.7 378.5C1162.1 384.6 1163.2 390.7 1163.9 396.9C1164.6 403.0 1165.0 409.3 1164.9 415.5C1164.8 421.7 1164.2 427.9 1163.4 434.1C1162.7 440.2 1161.8 446.4 1160.5 452.5C1159.1 458.5 1157.5 464.6 1155.5 470.4C1153.5 476.3 1151.2 482.1 1148.7 487.8C1146.2 493.5 1143.6 499.2 1140.5 504.5C1137.3 509.9 1133.7 515.0 1129.9 519.9C1126.1 524.8 1122.0 529.4 1117.7 533.9C1113.5 538.4 1109.1 543.1 1104.3 547.0C1099.5 550.8 1094.1 553.9 1088.9 557.2C1083.6 560.4 1078.4 563.9 1072.7 566.4C1067.1 568.9 1060.9 570.4 1055.0 572.2C1049.0 573.9 1043.0 575.6 1037.0 577.1C1030.9 578.6 1024.8 580.0 1018.7 581.0C1012.6 582.0 1006.4 582.5 1000.2 582.9C994.0 583.4 987.8 583.7 981.5 583.8C975.3 583.9 969.1 583.7 962.9 583.4C956.7 583.1 950.5 582.5 944.3 581.9C938.1 581.4 931.9 580.8 925.7 580.0C919.6 579.2 913.4 578.3 907.3 577.1C901.2 576.0 895.0 574.8 889.2 573.0C883.3 571.1 877.6 568.4 872.0 565.9C866.3 563.3 860.5 560.9 855.2 557.7C850.0 554.4 845.2 550.3 840.6 546.2C835.9 542.1 831.3 538.0 827.3 533.3C823.3 528.6 819.9 523.2 816.8 517.9C813.7 512.5 811.2 506.8 808.8 501.1C806.4 495.4 804.2 489.5 802.6 483.5C801.0 477.6 800.1 471.4 799.1 465.2C798.1 459.1 797.2 452.9 796.9 446.7C796.5 440.5 796.6 434.3 797.1 428.1C797.6 421.9 798.8 415.8 800.0 409.7C801.2 403.6 802.5 397.5 804.2 391.5C805.9 385.5 808.0 379.7 810.2 373.9C812.5 368.1 814.9 362.3 817.6 356.7C820.3 351.1 823.3 345.7 826.5 340.3C829.6 335.0 833.0 329.7 836.6 324.6C840.1 319.5 843.9 314.5 847.8 309.7C851.7 304.9 855.8 300.2 860.1 295.7C864.3 291.2 868.8 286.8 873.4 282.7C878.1 278.5 882.8 274.5 887.8 270.8C892.8 267.0 898.0 263.5 903.3 260.3C908.5 257.0 914.0 254.1 919.6 251.3C925.2 248.5 930.9 245.9 936.7 243.7C942.5 241.6 948.5 239.8 954.5 238.2C960.5 236.6 966.6 235.2 972.7 234.3C978.9 233.3 985.1 232.8 991.3 232.5C997.5 232.3 1003.7 232.6 1009.9 232.8C1016.1 232.9 1022.4 233.1 1028.6 233.5C1034.8 234.0 1041.0 234.5 1047.1 235.5C1053.3 236.5 1059.3 237.7 1065.3 239.3C1071.3 240.9 1077.2 242.9 1083.0 245.1C1088.8 247.3 1097.2 251.4 1100.0 252.6" fill="none" stroke="#fff" stroke-opacity="0.1" stroke-width="0.8"/><path d="M992.1 271.5C995.0 271.6 1003.7 271.6 1009.5 272.2C1015.3 272.7 1021.0 273.6 1026.8 274.7C1032.5 275.8 1038.2 277.0 1043.8 278.5C1049.4 280.1 1055.0 281.9 1060.4 284.0C1065.8 286.0 1071.1 288.4 1076.4 291.0C1081.6 293.6 1086.7 296.4 1091.7 299.4C1096.7 302.4 1101.7 305.5 1106.2 309.1C1110.7 312.7 1115.1 316.5 1118.7 321.0C1122.3 325.4 1125.1 330.6 1127.9 335.7C1130.7 340.8 1133.1 346.2 1135.4 351.5C1137.7 356.9 1139.7 362.3 1141.6 367.8C1143.4 373.4 1145.0 379.0 1146.3 384.7C1147.5 390.3 1148.5 396.1 1149.1 401.9C1149.8 407.6 1150.2 413.5 1150.2 419.3C1150.3 425.1 1150.1 430.9 1149.7 436.7C1149.2 442.5 1148.3 448.3 1147.4 454.0C1146.5 459.7 1145.7 465.6 1144.0 471.1C1142.4 476.7 1140.0 482.1 1137.6 487.3C1135.2 492.6 1132.6 497.9 1129.7 502.9C1126.8 507.9 1123.6 512.9 1120.0 517.4C1116.3 521.9 1112.1 525.8 1107.9 529.9C1103.8 533.9 1099.7 538.3 1094.9 541.5C1090.2 544.7 1084.6 546.8 1079.4 549.3C1074.1 551.8 1068.9 554.3 1063.5 556.4C1058.1 558.6 1052.5 560.4 1047.0 562.1C1041.4 563.9 1035.8 565.3 1030.2 566.7C1024.5 568.1 1018.8 569.5 1013.1 570.4C1007.3 571.2 1001.5 571.5 995.7 571.8C989.9 572.2 984.1 572.5 978.3 572.6C972.4 572.7 966.6 572.8 960.8 572.5C955.0 572.1 949.2 571.3 943.5 570.6C937.7 569.9 931.9 569.0 926.2 568.2C920.4 567.3 914.7 566.8 909.0 565.4C903.4 564.1 897.9 562.1 892.5 560.0C887.1 557.9 881.7 555.7 876.6 553.0C871.4 550.4 866.3 547.4 861.6 544.1C856.8 540.8 852.3 537.0 848.1 533.1C843.8 529.2 839.5 525.2 836.0 520.7C832.6 516.1 830.0 510.7 827.3 505.5C824.6 500.4 821.7 495.3 819.7 489.9C817.8 484.5 816.8 478.7 815.7 473.0C814.5 467.3 813.6 461.5 813.0 455.8C812.4 450.0 812.3 444.1 812.2 438.3C812.1 432.5 812.0 426.7 812.5 420.9C812.9 415.1 813.7 409.3 814.7 403.6C815.8 397.9 817.1 392.2 818.7 386.6C820.4 381.0 822.4 375.6 824.6 370.2C826.8 364.8 829.2 359.5 831.9 354.3C834.6 349.2 837.8 344.3 840.9 339.4C844.1 334.5 847.3 329.6 850.8 325.0C854.3 320.3 858.1 315.9 861.9 311.5C865.7 307.1 869.8 302.9 873.9 298.8C877.9 294.6 882.0 290.4 886.3 286.5C890.6 282.6 895.1 278.9 899.8 275.4C904.4 271.9 909.2 268.6 914.2 265.5C919.1 262.4 924.2 259.6 929.4 256.9C934.6 254.3 939.9 251.9 945.4 249.9C950.8 247.9 956.4 246.2 962.1 244.8C967.7 243.5 973.5 242.2 979.2 241.6C985.0 240.9 990.8 240.7 996.5 240.9C1002.3 241.0 1008.1 241.9 1013.9 242.3C1019.7 242.7 1025.6 242.9 1031.4 243.3C1037.2 243.7 1043.0 244.0 1048.8 244.6C1054.6 245.2 1060.3 246.0 1066.1 246.9C1071.8 247.9 1077.5 248.9 1083.2 250.2C1088.8 251.4 1097.2 253.7 1100.0 254.5" fill="none" stroke="#fff" stroke-opacity="0.16" stroke-width="0.9"/><path d="M991.7 273.8C994.5 273.9 1003.2 273.9 1008.9 274.4C1014.6 275.0 1020.3 275.8 1026.0 276.9C1031.6 277.9 1037.3 279.2 1042.8 280.7C1048.4 282.2 1053.9 284.0 1059.2 286.0C1064.6 288.1 1069.9 290.5 1075.0 293.0C1080.2 295.6 1085.3 298.3 1090.2 301.3C1095.1 304.3 1100.1 307.3 1104.6 310.9C1109.0 314.4 1113.4 318.2 1117.0 322.5C1120.6 326.9 1123.3 332.1 1126.1 337.2C1128.8 342.2 1131.2 347.5 1133.4 352.8C1135.6 358.1 1137.6 363.5 1139.4 369.0C1141.1 374.5 1142.7 380.0 1143.9 385.6C1145.2 391.3 1146.1 397.0 1146.7 402.7C1147.4 408.4 1147.8 414.2 1147.9 419.9C1148.0 425.7 1147.9 431.4 1147.4 437.1C1147.0 442.9 1146.2 448.6 1145.3 454.3C1144.4 459.9 1143.8 465.7 1142.2 471.2C1140.6 476.7 1138.2 482.0 1135.8 487.3C1133.4 492.5 1130.9 497.6 1128.0 502.6C1125.1 507.5 1122.0 512.5 1118.4 516.9C1114.8 521.4 1110.5 525.3 1106.4 529.2C1102.2 533.1 1098.1 537.5 1093.4 540.6C1088.6 543.7 1083.1 545.6 1077.9 548.0C1072.6 550.4 1067.4 552.7 1062.0 554.8C1056.6 556.9 1051.2 558.8 1045.7 560.5C1040.2 562.2 1034.6 563.7 1029.1 565.0C1023.5 566.4 1017.9 567.8 1012.2 568.7C1006.5 569.5 1000.7 569.7 995.0 570.0C989.2 570.4 983.5 570.7 977.7 570.8C972.0 570.9 966.2 571.1 960.4 570.7C954.7 570.4 949.0 569.5 943.3 568.7C937.6 568.0 931.9 567.1 926.2 566.3C920.6 565.4 914.9 564.9 909.3 563.6C903.8 562.2 898.3 560.0 893.0 557.9C887.7 555.8 882.4 553.6 877.3 550.9C872.2 548.3 867.3 545.2 862.6 541.9C857.9 538.6 853.5 534.8 849.3 531.0C845.1 527.1 840.8 523.2 837.4 518.6C834.1 514.1 831.6 508.6 829.0 503.6C826.3 498.5 823.4 493.5 821.5 488.1C819.6 482.7 818.8 476.9 817.8 471.3C816.7 465.6 815.8 459.9 815.2 454.2C814.7 448.5 814.7 442.7 814.7 437.0C814.6 431.2 814.5 425.4 814.9 419.7C815.3 414.0 816.1 408.3 817.1 402.6C818.1 397.0 819.4 391.3 821.1 385.8C822.7 380.3 824.7 374.9 826.9 369.6C829.1 364.3 831.5 359.0 834.2 354.0C837.0 348.9 840.1 344.0 843.3 339.2C846.4 334.4 849.6 329.6 853.1 325.0C856.6 320.5 860.3 316.1 864.2 311.8C868.0 307.5 872.0 303.4 876.1 299.3C880.1 295.1 884.1 291.0 888.4 287.1C892.7 283.3 897.1 279.6 901.7 276.2C906.3 272.7 911.1 269.4 915.9 266.4C920.8 263.3 925.8 260.4 931.0 257.9C936.1 255.3 941.4 252.9 946.8 250.9C952.1 248.9 957.7 247.3 963.3 245.9C968.9 244.6 974.6 243.4 980.3 242.8C985.9 242.1 991.7 242.0 997.4 242.2C1003.1 242.4 1008.8 243.4 1014.6 243.9C1020.3 244.3 1026.1 244.5 1031.8 244.9C1037.6 245.2 1043.3 245.6 1049.0 246.1C1054.8 246.7 1060.5 247.4 1066.2 248.2C1071.9 249.0 1077.6 249.9 1083.2 251.0C1088.8 252.1 1097.2 254.1 1100.0 254.8" fill="none" stroke="#fff" stroke-opacity="0.22" stroke-width="1.0"/><path d="M993.2 265.2C996.2 265.3 1005.2 265.4 1011.1 266.0C1017.1 266.6 1023.0 267.6 1028.9 268.8C1034.8 269.9 1040.7 271.2 1046.4 272.8C1052.2 274.4 1057.9 276.2 1063.5 278.4C1069.1 280.5 1074.6 283.0 1079.9 285.6C1085.3 288.3 1090.6 291.1 1095.8 294.2C1100.9 297.3 1106.1 300.4 1110.7 304.2C1115.4 307.9 1119.7 312.0 1123.4 316.7C1127.1 321.3 1130.0 326.7 1132.9 331.9C1135.8 337.1 1138.4 342.6 1140.8 348.1C1143.2 353.5 1145.5 359.1 1147.5 364.7C1149.4 370.4 1151.2 376.2 1152.5 382.0C1153.9 387.8 1154.9 393.8 1155.6 399.7C1156.3 405.6 1156.6 411.7 1156.6 417.6C1156.7 423.6 1156.2 429.6 1155.7 435.6C1155.1 441.5 1154.2 447.5 1153.1 453.3C1152.0 459.2 1150.8 465.1 1149.0 470.8C1147.2 476.5 1144.9 482.1 1142.4 487.5C1140.0 493.0 1137.4 498.4 1134.4 503.6C1131.4 508.7 1128.0 513.8 1124.3 518.5C1120.6 523.1 1116.4 527.4 1112.2 531.6C1108.0 535.9 1103.8 540.4 1099.0 543.9C1094.2 547.4 1088.8 549.9 1083.5 552.7C1078.3 555.5 1073.0 558.5 1067.5 560.8C1062.0 563.1 1056.2 564.8 1050.5 566.5C1044.7 568.3 1038.9 569.8 1033.1 571.2C1027.3 572.7 1021.4 574.1 1015.5 575.0C1009.6 575.9 1003.6 576.3 997.7 576.7C991.7 577.1 985.7 577.4 979.7 577.5C973.7 577.6 967.7 577.6 961.7 577.2C955.7 576.9 949.8 576.2 943.8 575.5C937.9 574.9 931.9 574.1 926.0 573.3C920.1 572.5 914.1 571.8 908.3 570.5C902.5 569.3 896.6 567.6 891.0 565.6C885.4 563.7 879.9 561.2 874.6 558.6C869.2 556.0 863.8 553.3 858.8 550.0C853.9 546.7 849.3 542.8 844.8 538.8C840.4 534.8 835.9 530.8 832.2 526.2C828.5 521.5 825.6 516.1 822.7 510.9C819.8 505.7 817.1 500.3 815.0 494.8C812.8 489.2 811.3 483.4 810.0 477.6C808.6 471.8 807.7 465.8 806.9 459.9C806.2 453.9 805.7 448.0 805.5 442.0C805.3 436.0 805.3 430.0 805.8 424.0C806.2 418.1 807.2 412.1 808.3 406.2C809.4 400.4 810.7 394.5 812.4 388.7C814.1 383.0 816.1 377.3 818.3 371.8C820.6 366.2 823.0 360.7 825.7 355.4C828.4 350.0 831.5 344.9 834.6 339.8C837.8 334.7 841.1 329.7 844.6 324.8C848.1 320.0 851.9 315.3 855.7 310.7C859.6 306.1 863.7 301.7 867.9 297.4C872.0 293.1 876.2 288.8 880.7 284.8C885.1 280.8 889.8 277.0 894.6 273.4C899.4 269.8 904.3 266.4 909.4 263.2C914.5 260.1 919.8 257.2 925.1 254.5C930.5 251.8 936.0 249.3 941.6 247.2C947.2 245.1 953.0 243.4 958.8 242.0C964.6 240.5 970.5 239.2 976.4 238.4C982.3 237.6 988.3 237.3 994.3 237.2C1000.2 237.2 1006.2 237.8 1012.2 238.2C1018.2 238.5 1024.2 238.6 1030.2 239.0C1036.1 239.5 1042.1 239.9 1048.1 240.7C1054.0 241.4 1059.9 242.4 1065.7 243.6C1071.6 244.9 1077.4 246.3 1083.1 248.0C1088.8 249.6 1097.2 252.7 1100.0 253.7" fill="none" stroke="#fff" stroke-opacity="0.07" stroke-width="0.8"/></g>
</svg>
</body></html>
